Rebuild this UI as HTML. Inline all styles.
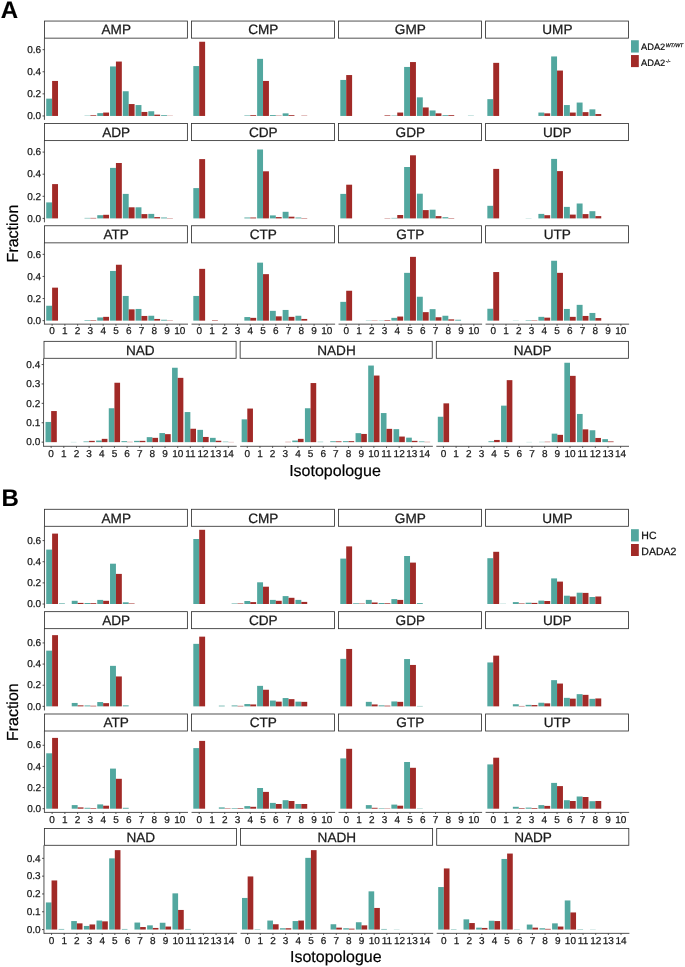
<!DOCTYPE html>
<html><head><meta charset="utf-8"><title>Figure</title>
<style>
html,body{margin:0;padding:0;background:#fff;}
body{width:685px;height:967px;overflow:hidden;font-family:'Liberation Sans', sans-serif;}
svg{display:block;will-change:transform;}
svg text{font-family:"Liberation Sans",sans-serif;text-rendering:geometricPrecision;}
</style></head><body>
<svg width="685" height="967" viewBox="0 0 685 967">
<rect x="0" y="0" width="685" height="967" fill="#fff"/>
<text x="0.70" y="18.20" font-size="24" text-anchor="start" fill="#000" font-weight="bold" stroke="#000" stroke-width="0.15" >A</text>
<rect x="46.21" y="98.65" width="5.90" height="17.30" fill="#52A79F"/>
<rect x="52.11" y="80.95" width="5.90" height="35.00" fill="#A12A27"/>
<rect x="84.50" y="115.65" width="5.90" height="0.30" fill="#52A79F"/>
<rect x="90.40" y="115.25" width="5.90" height="0.70" fill="#A12A27"/>
<rect x="97.26" y="113.15" width="5.90" height="2.80" fill="#52A79F"/>
<rect x="103.16" y="112.55" width="5.90" height="3.40" fill="#A12A27"/>
<rect x="110.03" y="66.45" width="5.90" height="49.50" fill="#52A79F"/>
<rect x="115.93" y="61.55" width="5.90" height="54.40" fill="#A12A27"/>
<rect x="122.79" y="91.25" width="5.90" height="24.70" fill="#52A79F"/>
<rect x="128.69" y="104.05" width="5.90" height="11.90" fill="#A12A27"/>
<rect x="135.55" y="105.05" width="5.90" height="10.90" fill="#52A79F"/>
<rect x="141.45" y="111.95" width="5.90" height="4.00" fill="#A12A27"/>
<rect x="148.32" y="111.25" width="5.90" height="4.70" fill="#52A79F"/>
<rect x="154.22" y="114.65" width="5.90" height="1.30" fill="#A12A27"/>
<rect x="161.08" y="115.15" width="5.90" height="0.80" fill="#52A79F"/>
<rect x="166.98" y="115.75" width="5.90" height="0.20" fill="#A12A27"/>
<rect x="44.45" y="21.05" width="142.95" height="17.10" fill="#fff" stroke="#333333" stroke-width="0.85"/>
<text x="116.22" y="34.40" font-size="13.6" text-anchor="middle" fill="#1a1a1a" font-weight="normal" stroke="#1a1a1a" stroke-width="0.25" >AMP</text>
<line x1="44.45" y1="38.15" x2="44.45" y2="119.88" stroke="#333333" stroke-width="0.85" stroke-linecap="butt"/>
<line x1="42.55" y1="115.95" x2="44.45" y2="115.95" stroke="#333333" stroke-width="0.85" stroke-linecap="butt"/>
<text x="41.15" y="119.15" font-size="10.0" text-anchor="end" fill="#1a1a1a" font-weight="normal" stroke="#1a1a1a" stroke-width="0.25" >0.0</text>
<line x1="42.55" y1="93.85" x2="44.45" y2="93.85" stroke="#333333" stroke-width="0.85" stroke-linecap="butt"/>
<text x="41.15" y="97.05" font-size="10.0" text-anchor="end" fill="#1a1a1a" font-weight="normal" stroke="#1a1a1a" stroke-width="0.25" >0.2</text>
<line x1="42.55" y1="71.75" x2="44.45" y2="71.75" stroke="#333333" stroke-width="0.85" stroke-linecap="butt"/>
<text x="41.15" y="74.95" font-size="10.0" text-anchor="end" fill="#1a1a1a" font-weight="normal" stroke="#1a1a1a" stroke-width="0.25" >0.4</text>
<line x1="42.55" y1="49.65" x2="44.45" y2="49.65" stroke="#333333" stroke-width="0.85" stroke-linecap="butt"/>
<text x="41.15" y="52.85" font-size="10.0" text-anchor="end" fill="#1a1a1a" font-weight="normal" stroke="#1a1a1a" stroke-width="0.25" >0.6</text>
<rect x="193.31" y="66.05" width="5.90" height="49.90" fill="#52A79F"/>
<rect x="199.21" y="41.75" width="5.90" height="74.20" fill="#A12A27"/>
<rect x="244.36" y="115.45" width="5.90" height="0.50" fill="#52A79F"/>
<rect x="250.26" y="115.15" width="5.90" height="0.80" fill="#A12A27"/>
<rect x="257.13" y="58.85" width="5.90" height="57.10" fill="#52A79F"/>
<rect x="263.03" y="80.95" width="5.90" height="35.00" fill="#A12A27"/>
<rect x="269.89" y="115.05" width="5.90" height="0.90" fill="#52A79F"/>
<rect x="275.79" y="115.65" width="5.90" height="0.30" fill="#A12A27"/>
<rect x="282.65" y="113.35" width="5.90" height="2.60" fill="#52A79F"/>
<rect x="288.55" y="115.15" width="5.90" height="0.80" fill="#A12A27"/>
<rect x="301.32" y="115.65" width="5.90" height="0.30" fill="#A12A27"/>
<rect x="191.55" y="21.05" width="142.95" height="17.10" fill="#fff" stroke="#333333" stroke-width="0.85"/>
<text x="263.32" y="34.40" font-size="13.6" text-anchor="middle" fill="#1a1a1a" font-weight="normal" stroke="#1a1a1a" stroke-width="0.25" >CMP</text>
<rect x="340.31" y="79.95" width="5.90" height="36.00" fill="#52A79F"/>
<rect x="346.21" y="75.05" width="5.90" height="40.90" fill="#A12A27"/>
<rect x="384.50" y="115.35" width="5.90" height="0.60" fill="#A12A27"/>
<rect x="391.36" y="115.55" width="5.90" height="0.40" fill="#52A79F"/>
<rect x="397.26" y="112.55" width="5.90" height="3.40" fill="#A12A27"/>
<rect x="404.12" y="66.95" width="5.90" height="49.00" fill="#52A79F"/>
<rect x="410.02" y="62.05" width="5.90" height="53.90" fill="#A12A27"/>
<rect x="416.89" y="97.35" width="5.90" height="18.60" fill="#52A79F"/>
<rect x="422.79" y="107.45" width="5.90" height="8.50" fill="#A12A27"/>
<rect x="429.65" y="110.45" width="5.90" height="5.50" fill="#52A79F"/>
<rect x="435.55" y="113.35" width="5.90" height="2.60" fill="#A12A27"/>
<rect x="442.42" y="115.15" width="5.90" height="0.80" fill="#52A79F"/>
<rect x="448.32" y="115.15" width="5.90" height="0.80" fill="#A12A27"/>
<rect x="467.94" y="115.65" width="5.90" height="0.30" fill="#52A79F"/>
<rect x="338.55" y="21.05" width="142.95" height="17.10" fill="#fff" stroke="#333333" stroke-width="0.85"/>
<text x="410.32" y="34.40" font-size="13.6" text-anchor="middle" fill="#1a1a1a" font-weight="normal" stroke="#1a1a1a" stroke-width="0.25" >GMP</text>
<rect x="487.34" y="99.15" width="5.90" height="16.80" fill="#52A79F"/>
<rect x="493.24" y="62.85" width="5.90" height="53.10" fill="#A12A27"/>
<rect x="538.39" y="112.55" width="5.90" height="3.40" fill="#52A79F"/>
<rect x="544.29" y="113.35" width="5.90" height="2.60" fill="#A12A27"/>
<rect x="551.15" y="56.45" width="5.90" height="59.50" fill="#52A79F"/>
<rect x="557.05" y="70.55" width="5.90" height="45.40" fill="#A12A27"/>
<rect x="563.92" y="105.05" width="5.90" height="10.90" fill="#52A79F"/>
<rect x="569.82" y="112.55" width="5.90" height="3.40" fill="#A12A27"/>
<rect x="576.68" y="102.55" width="5.90" height="13.40" fill="#52A79F"/>
<rect x="582.58" y="112.15" width="5.90" height="3.80" fill="#A12A27"/>
<rect x="589.45" y="109.35" width="5.90" height="6.60" fill="#52A79F"/>
<rect x="595.35" y="114.05" width="5.90" height="1.90" fill="#A12A27"/>
<rect x="485.58" y="21.05" width="142.95" height="17.10" fill="#fff" stroke="#333333" stroke-width="0.85"/>
<text x="557.35" y="34.40" font-size="13.6" text-anchor="middle" fill="#1a1a1a" font-weight="normal" stroke="#1a1a1a" stroke-width="0.25" >UMP</text>
<rect x="46.21" y="202.40" width="5.90" height="16.00" fill="#52A79F"/>
<rect x="52.11" y="184.10" width="5.90" height="34.30" fill="#A12A27"/>
<rect x="84.50" y="217.90" width="5.90" height="0.50" fill="#52A79F"/>
<rect x="90.40" y="217.90" width="5.90" height="0.50" fill="#A12A27"/>
<rect x="97.26" y="215.20" width="5.90" height="3.20" fill="#52A79F"/>
<rect x="103.16" y="214.80" width="5.90" height="3.60" fill="#A12A27"/>
<rect x="110.03" y="167.90" width="5.90" height="50.50" fill="#52A79F"/>
<rect x="115.93" y="163.00" width="5.90" height="55.40" fill="#A12A27"/>
<rect x="122.79" y="193.90" width="5.90" height="24.50" fill="#52A79F"/>
<rect x="128.69" y="207.30" width="5.90" height="11.10" fill="#A12A27"/>
<rect x="135.55" y="207.30" width="5.90" height="11.10" fill="#52A79F"/>
<rect x="141.45" y="214.10" width="5.90" height="4.30" fill="#A12A27"/>
<rect x="148.32" y="213.90" width="5.90" height="4.50" fill="#52A79F"/>
<rect x="154.22" y="217.10" width="5.90" height="1.30" fill="#A12A27"/>
<rect x="161.08" y="217.50" width="5.90" height="0.90" fill="#52A79F"/>
<rect x="166.98" y="218.10" width="5.90" height="0.30" fill="#A12A27"/>
<rect x="44.45" y="123.50" width="142.95" height="17.10" fill="#fff" stroke="#333333" stroke-width="0.85"/>
<text x="116.22" y="136.85" font-size="13.6" text-anchor="middle" fill="#1a1a1a" font-weight="normal" stroke="#1a1a1a" stroke-width="0.25" >ADP</text>
<line x1="44.45" y1="140.60" x2="44.45" y2="222.32" stroke="#333333" stroke-width="0.85" stroke-linecap="butt"/>
<line x1="42.55" y1="218.40" x2="44.45" y2="218.40" stroke="#333333" stroke-width="0.85" stroke-linecap="butt"/>
<text x="41.15" y="221.60" font-size="10.0" text-anchor="end" fill="#1a1a1a" font-weight="normal" stroke="#1a1a1a" stroke-width="0.25" >0.0</text>
<line x1="42.55" y1="196.30" x2="44.45" y2="196.30" stroke="#333333" stroke-width="0.85" stroke-linecap="butt"/>
<text x="41.15" y="199.50" font-size="10.0" text-anchor="end" fill="#1a1a1a" font-weight="normal" stroke="#1a1a1a" stroke-width="0.25" >0.2</text>
<line x1="42.55" y1="174.20" x2="44.45" y2="174.20" stroke="#333333" stroke-width="0.85" stroke-linecap="butt"/>
<text x="41.15" y="177.40" font-size="10.0" text-anchor="end" fill="#1a1a1a" font-weight="normal" stroke="#1a1a1a" stroke-width="0.25" >0.4</text>
<line x1="42.55" y1="152.10" x2="44.45" y2="152.10" stroke="#333333" stroke-width="0.85" stroke-linecap="butt"/>
<text x="41.15" y="155.30" font-size="10.0" text-anchor="end" fill="#1a1a1a" font-weight="normal" stroke="#1a1a1a" stroke-width="0.25" >0.6</text>
<rect x="193.31" y="188.10" width="5.90" height="30.30" fill="#52A79F"/>
<rect x="199.21" y="159.10" width="5.90" height="59.30" fill="#A12A27"/>
<rect x="244.36" y="217.50" width="5.90" height="0.90" fill="#52A79F"/>
<rect x="250.26" y="217.50" width="5.90" height="0.90" fill="#A12A27"/>
<rect x="257.13" y="149.50" width="5.90" height="68.90" fill="#52A79F"/>
<rect x="263.03" y="171.30" width="5.90" height="47.10" fill="#A12A27"/>
<rect x="269.89" y="215.40" width="5.90" height="3.00" fill="#52A79F"/>
<rect x="275.79" y="217.10" width="5.90" height="1.30" fill="#A12A27"/>
<rect x="282.65" y="211.80" width="5.90" height="6.60" fill="#52A79F"/>
<rect x="288.55" y="216.70" width="5.90" height="1.70" fill="#A12A27"/>
<rect x="295.42" y="217.50" width="5.90" height="0.90" fill="#52A79F"/>
<rect x="301.32" y="218.00" width="5.90" height="0.40" fill="#A12A27"/>
<rect x="191.55" y="123.50" width="142.95" height="17.10" fill="#fff" stroke="#333333" stroke-width="0.85"/>
<text x="263.32" y="136.85" font-size="13.6" text-anchor="middle" fill="#1a1a1a" font-weight="normal" stroke="#1a1a1a" stroke-width="0.25" >CDP</text>
<rect x="340.31" y="193.90" width="5.90" height="24.50" fill="#52A79F"/>
<rect x="346.21" y="184.70" width="5.90" height="33.70" fill="#A12A27"/>
<rect x="384.50" y="218.10" width="5.90" height="0.30" fill="#A12A27"/>
<rect x="391.36" y="217.90" width="5.90" height="0.50" fill="#52A79F"/>
<rect x="397.26" y="215.00" width="5.90" height="3.40" fill="#A12A27"/>
<rect x="404.12" y="167.00" width="5.90" height="51.40" fill="#52A79F"/>
<rect x="410.02" y="155.30" width="5.90" height="63.10" fill="#A12A27"/>
<rect x="416.89" y="193.70" width="5.90" height="24.70" fill="#52A79F"/>
<rect x="422.79" y="210.10" width="5.90" height="8.30" fill="#A12A27"/>
<rect x="429.65" y="209.70" width="5.90" height="8.70" fill="#52A79F"/>
<rect x="435.55" y="216.10" width="5.90" height="2.30" fill="#A12A27"/>
<rect x="442.42" y="217.20" width="5.90" height="1.20" fill="#52A79F"/>
<rect x="448.32" y="218.00" width="5.90" height="0.40" fill="#A12A27"/>
<rect x="338.55" y="123.50" width="142.95" height="17.10" fill="#fff" stroke="#333333" stroke-width="0.85"/>
<text x="410.32" y="136.85" font-size="13.6" text-anchor="middle" fill="#1a1a1a" font-weight="normal" stroke="#1a1a1a" stroke-width="0.25" >GDP</text>
<rect x="487.34" y="205.80" width="5.90" height="12.60" fill="#52A79F"/>
<rect x="493.24" y="168.90" width="5.90" height="49.50" fill="#A12A27"/>
<rect x="525.63" y="218.20" width="5.90" height="0.20" fill="#52A79F"/>
<rect x="538.39" y="213.90" width="5.90" height="4.50" fill="#52A79F"/>
<rect x="544.29" y="215.20" width="5.90" height="3.20" fill="#A12A27"/>
<rect x="551.15" y="158.90" width="5.90" height="59.50" fill="#52A79F"/>
<rect x="557.05" y="171.10" width="5.90" height="47.30" fill="#A12A27"/>
<rect x="563.92" y="206.90" width="5.90" height="11.50" fill="#52A79F"/>
<rect x="569.82" y="214.60" width="5.90" height="3.80" fill="#A12A27"/>
<rect x="576.68" y="203.50" width="5.90" height="14.90" fill="#52A79F"/>
<rect x="582.58" y="214.10" width="5.90" height="4.30" fill="#A12A27"/>
<rect x="589.45" y="211.20" width="5.90" height="7.20" fill="#52A79F"/>
<rect x="595.35" y="216.10" width="5.90" height="2.30" fill="#A12A27"/>
<rect x="485.58" y="123.50" width="142.95" height="17.10" fill="#fff" stroke="#333333" stroke-width="0.85"/>
<text x="557.35" y="136.85" font-size="13.6" text-anchor="middle" fill="#1a1a1a" font-weight="normal" stroke="#1a1a1a" stroke-width="0.25" >UDP</text>
<rect x="46.21" y="305.75" width="5.90" height="14.90" fill="#52A79F"/>
<rect x="52.11" y="287.65" width="5.90" height="33.00" fill="#A12A27"/>
<rect x="84.50" y="320.05" width="5.90" height="0.60" fill="#52A79F"/>
<rect x="90.40" y="320.15" width="5.90" height="0.50" fill="#A12A27"/>
<rect x="97.26" y="317.45" width="5.90" height="3.20" fill="#52A79F"/>
<rect x="103.16" y="316.85" width="5.90" height="3.80" fill="#A12A27"/>
<rect x="110.03" y="270.95" width="5.90" height="49.70" fill="#52A79F"/>
<rect x="115.93" y="264.75" width="5.90" height="55.90" fill="#A12A27"/>
<rect x="122.79" y="295.95" width="5.90" height="24.70" fill="#52A79F"/>
<rect x="128.69" y="309.35" width="5.90" height="11.30" fill="#A12A27"/>
<rect x="135.55" y="308.95" width="5.90" height="11.70" fill="#52A79F"/>
<rect x="141.45" y="315.95" width="5.90" height="4.70" fill="#A12A27"/>
<rect x="148.32" y="315.75" width="5.90" height="4.90" fill="#52A79F"/>
<rect x="154.22" y="318.95" width="5.90" height="1.70" fill="#A12A27"/>
<rect x="161.08" y="319.75" width="5.90" height="0.90" fill="#52A79F"/>
<rect x="166.98" y="320.35" width="5.90" height="0.30" fill="#A12A27"/>
<rect x="44.45" y="225.75" width="142.95" height="17.10" fill="#fff" stroke="#333333" stroke-width="0.85"/>
<text x="116.22" y="239.10" font-size="13.6" text-anchor="middle" fill="#1a1a1a" font-weight="normal" stroke="#1a1a1a" stroke-width="0.25" >ATP</text>
<line x1="44.45" y1="242.85" x2="44.45" y2="324.57" stroke="#333333" stroke-width="0.85" stroke-linecap="butt"/>
<line x1="42.55" y1="320.65" x2="44.45" y2="320.65" stroke="#333333" stroke-width="0.85" stroke-linecap="butt"/>
<text x="41.15" y="323.85" font-size="10.0" text-anchor="end" fill="#1a1a1a" font-weight="normal" stroke="#1a1a1a" stroke-width="0.25" >0.0</text>
<line x1="42.55" y1="298.55" x2="44.45" y2="298.55" stroke="#333333" stroke-width="0.85" stroke-linecap="butt"/>
<text x="41.15" y="301.75" font-size="10.0" text-anchor="end" fill="#1a1a1a" font-weight="normal" stroke="#1a1a1a" stroke-width="0.25" >0.2</text>
<line x1="42.55" y1="276.45" x2="44.45" y2="276.45" stroke="#333333" stroke-width="0.85" stroke-linecap="butt"/>
<text x="41.15" y="279.65" font-size="10.0" text-anchor="end" fill="#1a1a1a" font-weight="normal" stroke="#1a1a1a" stroke-width="0.25" >0.4</text>
<line x1="42.55" y1="254.35" x2="44.45" y2="254.35" stroke="#333333" stroke-width="0.85" stroke-linecap="butt"/>
<text x="41.15" y="257.55" font-size="10.0" text-anchor="end" fill="#1a1a1a" font-weight="normal" stroke="#1a1a1a" stroke-width="0.25" >0.6</text>
<line x1="44.45" y1="324.15" x2="188.00" y2="324.15" stroke="#333333" stroke-width="0.85" stroke-linecap="butt"/>
<line x1="52.11" y1="324.15" x2="52.11" y2="325.75" stroke="#333333" stroke-width="0.85" stroke-linecap="butt"/>
<text x="52.11" y="334.45" font-size="10.0" text-anchor="middle" fill="#1a1a1a" font-weight="normal" stroke="#1a1a1a" stroke-width="0.25" >0</text>
<line x1="64.87" y1="324.15" x2="64.87" y2="325.75" stroke="#333333" stroke-width="0.85" stroke-linecap="butt"/>
<text x="64.87" y="334.45" font-size="10.0" text-anchor="middle" fill="#1a1a1a" font-weight="normal" stroke="#1a1a1a" stroke-width="0.25" >1</text>
<line x1="77.63" y1="324.15" x2="77.63" y2="325.75" stroke="#333333" stroke-width="0.85" stroke-linecap="butt"/>
<text x="77.63" y="334.45" font-size="10.0" text-anchor="middle" fill="#1a1a1a" font-weight="normal" stroke="#1a1a1a" stroke-width="0.25" >2</text>
<line x1="90.40" y1="324.15" x2="90.40" y2="325.75" stroke="#333333" stroke-width="0.85" stroke-linecap="butt"/>
<text x="90.40" y="334.45" font-size="10.0" text-anchor="middle" fill="#1a1a1a" font-weight="normal" stroke="#1a1a1a" stroke-width="0.25" >3</text>
<line x1="103.16" y1="324.15" x2="103.16" y2="325.75" stroke="#333333" stroke-width="0.85" stroke-linecap="butt"/>
<text x="103.16" y="334.45" font-size="10.0" text-anchor="middle" fill="#1a1a1a" font-weight="normal" stroke="#1a1a1a" stroke-width="0.25" >4</text>
<line x1="115.93" y1="324.15" x2="115.93" y2="325.75" stroke="#333333" stroke-width="0.85" stroke-linecap="butt"/>
<text x="115.93" y="334.45" font-size="10.0" text-anchor="middle" fill="#1a1a1a" font-weight="normal" stroke="#1a1a1a" stroke-width="0.25" >5</text>
<line x1="128.69" y1="324.15" x2="128.69" y2="325.75" stroke="#333333" stroke-width="0.85" stroke-linecap="butt"/>
<text x="128.69" y="334.45" font-size="10.0" text-anchor="middle" fill="#1a1a1a" font-weight="normal" stroke="#1a1a1a" stroke-width="0.25" >6</text>
<line x1="141.45" y1="324.15" x2="141.45" y2="325.75" stroke="#333333" stroke-width="0.85" stroke-linecap="butt"/>
<text x="141.45" y="334.45" font-size="10.0" text-anchor="middle" fill="#1a1a1a" font-weight="normal" stroke="#1a1a1a" stroke-width="0.25" >7</text>
<line x1="154.22" y1="324.15" x2="154.22" y2="325.75" stroke="#333333" stroke-width="0.85" stroke-linecap="butt"/>
<text x="154.22" y="334.45" font-size="10.0" text-anchor="middle" fill="#1a1a1a" font-weight="normal" stroke="#1a1a1a" stroke-width="0.25" >8</text>
<line x1="166.98" y1="324.15" x2="166.98" y2="325.75" stroke="#333333" stroke-width="0.85" stroke-linecap="butt"/>
<text x="166.98" y="334.45" font-size="10.0" text-anchor="middle" fill="#1a1a1a" font-weight="normal" stroke="#1a1a1a" stroke-width="0.25" >9</text>
<line x1="179.74" y1="324.15" x2="179.74" y2="325.75" stroke="#333333" stroke-width="0.85" stroke-linecap="butt"/>
<text x="179.74" y="334.45" font-size="10.0" text-anchor="middle" fill="#1a1a1a" font-weight="normal" stroke="#1a1a1a" stroke-width="0.25" >10</text>
<rect x="193.31" y="295.95" width="5.90" height="24.70" fill="#52A79F"/>
<rect x="199.21" y="268.85" width="5.90" height="51.80" fill="#A12A27"/>
<rect x="211.97" y="320.15" width="5.90" height="0.50" fill="#A12A27"/>
<rect x="244.36" y="317.05" width="5.90" height="3.60" fill="#52A79F"/>
<rect x="250.26" y="317.85" width="5.90" height="2.80" fill="#A12A27"/>
<rect x="257.13" y="262.65" width="5.90" height="58.00" fill="#52A79F"/>
<rect x="263.03" y="274.15" width="5.90" height="46.50" fill="#A12A27"/>
<rect x="269.89" y="310.85" width="5.90" height="9.80" fill="#52A79F"/>
<rect x="275.79" y="316.35" width="5.90" height="4.30" fill="#A12A27"/>
<rect x="282.65" y="309.95" width="5.90" height="10.70" fill="#52A79F"/>
<rect x="288.55" y="316.85" width="5.90" height="3.80" fill="#A12A27"/>
<rect x="295.42" y="315.75" width="5.90" height="4.90" fill="#52A79F"/>
<rect x="301.32" y="318.95" width="5.90" height="1.70" fill="#A12A27"/>
<rect x="191.55" y="225.75" width="142.95" height="17.10" fill="#fff" stroke="#333333" stroke-width="0.85"/>
<text x="263.32" y="239.10" font-size="13.6" text-anchor="middle" fill="#1a1a1a" font-weight="normal" stroke="#1a1a1a" stroke-width="0.25" >CTP</text>
<line x1="191.55" y1="324.15" x2="335.10" y2="324.15" stroke="#333333" stroke-width="0.85" stroke-linecap="butt"/>
<line x1="199.21" y1="324.15" x2="199.21" y2="325.75" stroke="#333333" stroke-width="0.85" stroke-linecap="butt"/>
<text x="199.21" y="334.45" font-size="10.0" text-anchor="middle" fill="#1a1a1a" font-weight="normal" stroke="#1a1a1a" stroke-width="0.25" >0</text>
<line x1="211.97" y1="324.15" x2="211.97" y2="325.75" stroke="#333333" stroke-width="0.85" stroke-linecap="butt"/>
<text x="211.97" y="334.45" font-size="10.0" text-anchor="middle" fill="#1a1a1a" font-weight="normal" stroke="#1a1a1a" stroke-width="0.25" >1</text>
<line x1="224.73" y1="324.15" x2="224.73" y2="325.75" stroke="#333333" stroke-width="0.85" stroke-linecap="butt"/>
<text x="224.73" y="334.45" font-size="10.0" text-anchor="middle" fill="#1a1a1a" font-weight="normal" stroke="#1a1a1a" stroke-width="0.25" >2</text>
<line x1="237.50" y1="324.15" x2="237.50" y2="325.75" stroke="#333333" stroke-width="0.85" stroke-linecap="butt"/>
<text x="237.50" y="334.45" font-size="10.0" text-anchor="middle" fill="#1a1a1a" font-weight="normal" stroke="#1a1a1a" stroke-width="0.25" >3</text>
<line x1="250.26" y1="324.15" x2="250.26" y2="325.75" stroke="#333333" stroke-width="0.85" stroke-linecap="butt"/>
<text x="250.26" y="334.45" font-size="10.0" text-anchor="middle" fill="#1a1a1a" font-weight="normal" stroke="#1a1a1a" stroke-width="0.25" >4</text>
<line x1="263.03" y1="324.15" x2="263.03" y2="325.75" stroke="#333333" stroke-width="0.85" stroke-linecap="butt"/>
<text x="263.03" y="334.45" font-size="10.0" text-anchor="middle" fill="#1a1a1a" font-weight="normal" stroke="#1a1a1a" stroke-width="0.25" >5</text>
<line x1="275.79" y1="324.15" x2="275.79" y2="325.75" stroke="#333333" stroke-width="0.85" stroke-linecap="butt"/>
<text x="275.79" y="334.45" font-size="10.0" text-anchor="middle" fill="#1a1a1a" font-weight="normal" stroke="#1a1a1a" stroke-width="0.25" >6</text>
<line x1="288.55" y1="324.15" x2="288.55" y2="325.75" stroke="#333333" stroke-width="0.85" stroke-linecap="butt"/>
<text x="288.55" y="334.45" font-size="10.0" text-anchor="middle" fill="#1a1a1a" font-weight="normal" stroke="#1a1a1a" stroke-width="0.25" >7</text>
<line x1="301.32" y1="324.15" x2="301.32" y2="325.75" stroke="#333333" stroke-width="0.85" stroke-linecap="butt"/>
<text x="301.32" y="334.45" font-size="10.0" text-anchor="middle" fill="#1a1a1a" font-weight="normal" stroke="#1a1a1a" stroke-width="0.25" >8</text>
<line x1="314.08" y1="324.15" x2="314.08" y2="325.75" stroke="#333333" stroke-width="0.85" stroke-linecap="butt"/>
<text x="314.08" y="334.45" font-size="10.0" text-anchor="middle" fill="#1a1a1a" font-weight="normal" stroke="#1a1a1a" stroke-width="0.25" >9</text>
<line x1="326.84" y1="324.15" x2="326.84" y2="325.75" stroke="#333333" stroke-width="0.85" stroke-linecap="butt"/>
<text x="326.84" y="334.45" font-size="10.0" text-anchor="middle" fill="#1a1a1a" font-weight="normal" stroke="#1a1a1a" stroke-width="0.25" >10</text>
<rect x="340.31" y="301.85" width="5.90" height="18.80" fill="#52A79F"/>
<rect x="346.21" y="290.75" width="5.90" height="29.90" fill="#A12A27"/>
<rect x="365.83" y="320.35" width="5.90" height="0.30" fill="#52A79F"/>
<rect x="371.73" y="320.35" width="5.90" height="0.30" fill="#A12A27"/>
<rect x="378.60" y="320.35" width="5.90" height="0.30" fill="#52A79F"/>
<rect x="384.50" y="320.05" width="5.90" height="0.60" fill="#A12A27"/>
<rect x="391.36" y="317.85" width="5.90" height="2.80" fill="#52A79F"/>
<rect x="397.26" y="316.55" width="5.90" height="4.10" fill="#A12A27"/>
<rect x="404.12" y="272.85" width="5.90" height="47.80" fill="#52A79F"/>
<rect x="410.02" y="256.85" width="5.90" height="63.80" fill="#A12A27"/>
<rect x="416.89" y="296.75" width="5.90" height="23.90" fill="#52A79F"/>
<rect x="422.79" y="312.15" width="5.90" height="8.50" fill="#A12A27"/>
<rect x="429.65" y="309.15" width="5.90" height="11.50" fill="#52A79F"/>
<rect x="435.55" y="317.25" width="5.90" height="3.40" fill="#A12A27"/>
<rect x="442.42" y="315.75" width="5.90" height="4.90" fill="#52A79F"/>
<rect x="448.32" y="319.35" width="5.90" height="1.30" fill="#A12A27"/>
<rect x="455.18" y="319.75" width="5.90" height="0.90" fill="#52A79F"/>
<rect x="338.55" y="225.75" width="142.95" height="17.10" fill="#fff" stroke="#333333" stroke-width="0.85"/>
<text x="410.32" y="239.10" font-size="13.6" text-anchor="middle" fill="#1a1a1a" font-weight="normal" stroke="#1a1a1a" stroke-width="0.25" >GTP</text>
<line x1="338.55" y1="324.15" x2="482.10" y2="324.15" stroke="#333333" stroke-width="0.85" stroke-linecap="butt"/>
<line x1="346.21" y1="324.15" x2="346.21" y2="325.75" stroke="#333333" stroke-width="0.85" stroke-linecap="butt"/>
<text x="346.21" y="334.45" font-size="10.0" text-anchor="middle" fill="#1a1a1a" font-weight="normal" stroke="#1a1a1a" stroke-width="0.25" >0</text>
<line x1="358.97" y1="324.15" x2="358.97" y2="325.75" stroke="#333333" stroke-width="0.85" stroke-linecap="butt"/>
<text x="358.97" y="334.45" font-size="10.0" text-anchor="middle" fill="#1a1a1a" font-weight="normal" stroke="#1a1a1a" stroke-width="0.25" >1</text>
<line x1="371.73" y1="324.15" x2="371.73" y2="325.75" stroke="#333333" stroke-width="0.85" stroke-linecap="butt"/>
<text x="371.73" y="334.45" font-size="10.0" text-anchor="middle" fill="#1a1a1a" font-weight="normal" stroke="#1a1a1a" stroke-width="0.25" >2</text>
<line x1="384.50" y1="324.15" x2="384.50" y2="325.75" stroke="#333333" stroke-width="0.85" stroke-linecap="butt"/>
<text x="384.50" y="334.45" font-size="10.0" text-anchor="middle" fill="#1a1a1a" font-weight="normal" stroke="#1a1a1a" stroke-width="0.25" >3</text>
<line x1="397.26" y1="324.15" x2="397.26" y2="325.75" stroke="#333333" stroke-width="0.85" stroke-linecap="butt"/>
<text x="397.26" y="334.45" font-size="10.0" text-anchor="middle" fill="#1a1a1a" font-weight="normal" stroke="#1a1a1a" stroke-width="0.25" >4</text>
<line x1="410.02" y1="324.15" x2="410.02" y2="325.75" stroke="#333333" stroke-width="0.85" stroke-linecap="butt"/>
<text x="410.02" y="334.45" font-size="10.0" text-anchor="middle" fill="#1a1a1a" font-weight="normal" stroke="#1a1a1a" stroke-width="0.25" >5</text>
<line x1="422.79" y1="324.15" x2="422.79" y2="325.75" stroke="#333333" stroke-width="0.85" stroke-linecap="butt"/>
<text x="422.79" y="334.45" font-size="10.0" text-anchor="middle" fill="#1a1a1a" font-weight="normal" stroke="#1a1a1a" stroke-width="0.25" >6</text>
<line x1="435.55" y1="324.15" x2="435.55" y2="325.75" stroke="#333333" stroke-width="0.85" stroke-linecap="butt"/>
<text x="435.55" y="334.45" font-size="10.0" text-anchor="middle" fill="#1a1a1a" font-weight="normal" stroke="#1a1a1a" stroke-width="0.25" >7</text>
<line x1="448.32" y1="324.15" x2="448.32" y2="325.75" stroke="#333333" stroke-width="0.85" stroke-linecap="butt"/>
<text x="448.32" y="334.45" font-size="10.0" text-anchor="middle" fill="#1a1a1a" font-weight="normal" stroke="#1a1a1a" stroke-width="0.25" >8</text>
<line x1="461.08" y1="324.15" x2="461.08" y2="325.75" stroke="#333333" stroke-width="0.85" stroke-linecap="butt"/>
<text x="461.08" y="334.45" font-size="10.0" text-anchor="middle" fill="#1a1a1a" font-weight="normal" stroke="#1a1a1a" stroke-width="0.25" >9</text>
<line x1="473.84" y1="324.15" x2="473.84" y2="325.75" stroke="#333333" stroke-width="0.85" stroke-linecap="butt"/>
<text x="473.84" y="334.45" font-size="10.0" text-anchor="middle" fill="#1a1a1a" font-weight="normal" stroke="#1a1a1a" stroke-width="0.25" >10</text>
<rect x="487.34" y="308.75" width="5.90" height="11.90" fill="#52A79F"/>
<rect x="493.24" y="272.05" width="5.90" height="48.60" fill="#A12A27"/>
<rect x="512.86" y="320.45" width="5.90" height="0.20" fill="#52A79F"/>
<rect x="525.63" y="320.15" width="5.90" height="0.50" fill="#52A79F"/>
<rect x="531.53" y="320.25" width="5.90" height="0.40" fill="#A12A27"/>
<rect x="538.39" y="316.85" width="5.90" height="3.80" fill="#52A79F"/>
<rect x="544.29" y="317.65" width="5.90" height="3.00" fill="#A12A27"/>
<rect x="551.15" y="260.75" width="5.90" height="59.90" fill="#52A79F"/>
<rect x="557.05" y="272.85" width="5.90" height="47.80" fill="#A12A27"/>
<rect x="563.92" y="308.95" width="5.90" height="11.70" fill="#52A79F"/>
<rect x="569.82" y="316.85" width="5.90" height="3.80" fill="#A12A27"/>
<rect x="576.68" y="304.85" width="5.90" height="15.80" fill="#52A79F"/>
<rect x="582.58" y="315.95" width="5.90" height="4.70" fill="#A12A27"/>
<rect x="589.45" y="312.95" width="5.90" height="7.70" fill="#52A79F"/>
<rect x="595.35" y="318.05" width="5.90" height="2.60" fill="#A12A27"/>
<rect x="485.58" y="225.75" width="142.95" height="17.10" fill="#fff" stroke="#333333" stroke-width="0.85"/>
<text x="557.35" y="239.10" font-size="13.6" text-anchor="middle" fill="#1a1a1a" font-weight="normal" stroke="#1a1a1a" stroke-width="0.25" >UTP</text>
<line x1="485.58" y1="324.15" x2="629.13" y2="324.15" stroke="#333333" stroke-width="0.85" stroke-linecap="butt"/>
<line x1="493.24" y1="324.15" x2="493.24" y2="325.75" stroke="#333333" stroke-width="0.85" stroke-linecap="butt"/>
<text x="493.24" y="334.45" font-size="10.0" text-anchor="middle" fill="#1a1a1a" font-weight="normal" stroke="#1a1a1a" stroke-width="0.25" >0</text>
<line x1="506.00" y1="324.15" x2="506.00" y2="325.75" stroke="#333333" stroke-width="0.85" stroke-linecap="butt"/>
<text x="506.00" y="334.45" font-size="10.0" text-anchor="middle" fill="#1a1a1a" font-weight="normal" stroke="#1a1a1a" stroke-width="0.25" >1</text>
<line x1="518.76" y1="324.15" x2="518.76" y2="325.75" stroke="#333333" stroke-width="0.85" stroke-linecap="butt"/>
<text x="518.76" y="334.45" font-size="10.0" text-anchor="middle" fill="#1a1a1a" font-weight="normal" stroke="#1a1a1a" stroke-width="0.25" >2</text>
<line x1="531.53" y1="324.15" x2="531.53" y2="325.75" stroke="#333333" stroke-width="0.85" stroke-linecap="butt"/>
<text x="531.53" y="334.45" font-size="10.0" text-anchor="middle" fill="#1a1a1a" font-weight="normal" stroke="#1a1a1a" stroke-width="0.25" >3</text>
<line x1="544.29" y1="324.15" x2="544.29" y2="325.75" stroke="#333333" stroke-width="0.85" stroke-linecap="butt"/>
<text x="544.29" y="334.45" font-size="10.0" text-anchor="middle" fill="#1a1a1a" font-weight="normal" stroke="#1a1a1a" stroke-width="0.25" >4</text>
<line x1="557.05" y1="324.15" x2="557.05" y2="325.75" stroke="#333333" stroke-width="0.85" stroke-linecap="butt"/>
<text x="557.05" y="334.45" font-size="10.0" text-anchor="middle" fill="#1a1a1a" font-weight="normal" stroke="#1a1a1a" stroke-width="0.25" >5</text>
<line x1="569.82" y1="324.15" x2="569.82" y2="325.75" stroke="#333333" stroke-width="0.85" stroke-linecap="butt"/>
<text x="569.82" y="334.45" font-size="10.0" text-anchor="middle" fill="#1a1a1a" font-weight="normal" stroke="#1a1a1a" stroke-width="0.25" >6</text>
<line x1="582.58" y1="324.15" x2="582.58" y2="325.75" stroke="#333333" stroke-width="0.85" stroke-linecap="butt"/>
<text x="582.58" y="334.45" font-size="10.0" text-anchor="middle" fill="#1a1a1a" font-weight="normal" stroke="#1a1a1a" stroke-width="0.25" >7</text>
<line x1="595.35" y1="324.15" x2="595.35" y2="325.75" stroke="#333333" stroke-width="0.85" stroke-linecap="butt"/>
<text x="595.35" y="334.45" font-size="10.0" text-anchor="middle" fill="#1a1a1a" font-weight="normal" stroke="#1a1a1a" stroke-width="0.25" >8</text>
<line x1="608.11" y1="324.15" x2="608.11" y2="325.75" stroke="#333333" stroke-width="0.85" stroke-linecap="butt"/>
<text x="608.11" y="334.45" font-size="10.0" text-anchor="middle" fill="#1a1a1a" font-weight="normal" stroke="#1a1a1a" stroke-width="0.25" >9</text>
<line x1="620.87" y1="324.15" x2="620.87" y2="325.75" stroke="#333333" stroke-width="0.85" stroke-linecap="butt"/>
<text x="620.87" y="334.45" font-size="10.0" text-anchor="middle" fill="#1a1a1a" font-weight="normal" stroke="#1a1a1a" stroke-width="0.25" >10</text>
<rect x="45.50" y="421.95" width="5.65" height="20.20" fill="#52A79F"/>
<rect x="51.15" y="411.05" width="5.65" height="31.10" fill="#A12A27"/>
<rect x="70.81" y="441.95" width="5.65" height="0.20" fill="#52A79F"/>
<rect x="83.46" y="441.45" width="5.65" height="0.70" fill="#52A79F"/>
<rect x="89.11" y="440.85" width="5.65" height="1.30" fill="#A12A27"/>
<rect x="96.12" y="440.55" width="5.65" height="1.60" fill="#52A79F"/>
<rect x="101.77" y="438.85" width="5.65" height="3.30" fill="#A12A27"/>
<rect x="108.77" y="408.25" width="5.65" height="33.90" fill="#52A79F"/>
<rect x="114.42" y="382.75" width="5.65" height="59.40" fill="#A12A27"/>
<rect x="121.43" y="441.15" width="5.65" height="1.00" fill="#52A79F"/>
<rect x="127.08" y="441.85" width="5.65" height="0.30" fill="#A12A27"/>
<rect x="134.08" y="440.85" width="5.65" height="1.30" fill="#52A79F"/>
<rect x="139.73" y="440.85" width="5.65" height="1.30" fill="#A12A27"/>
<rect x="146.74" y="437.15" width="5.65" height="5.00" fill="#52A79F"/>
<rect x="152.39" y="437.85" width="5.65" height="4.30" fill="#A12A27"/>
<rect x="159.39" y="433.05" width="5.65" height="9.10" fill="#52A79F"/>
<rect x="165.04" y="434.15" width="5.65" height="8.00" fill="#A12A27"/>
<rect x="172.05" y="367.75" width="5.65" height="74.40" fill="#52A79F"/>
<rect x="177.70" y="377.85" width="5.65" height="64.30" fill="#A12A27"/>
<rect x="184.70" y="412.05" width="5.65" height="30.10" fill="#52A79F"/>
<rect x="190.35" y="428.75" width="5.65" height="13.40" fill="#A12A27"/>
<rect x="197.36" y="429.85" width="5.65" height="12.30" fill="#52A79F"/>
<rect x="203.01" y="436.95" width="5.65" height="5.20" fill="#A12A27"/>
<rect x="210.01" y="437.85" width="5.65" height="4.30" fill="#52A79F"/>
<rect x="215.66" y="440.75" width="5.65" height="1.40" fill="#A12A27"/>
<rect x="222.67" y="441.65" width="5.65" height="0.50" fill="#52A79F"/>
<rect x="228.32" y="441.95" width="5.65" height="0.20" fill="#A12A27"/>
<rect x="44.00" y="341.35" width="192.10" height="16.95" fill="#fff" stroke="#333333" stroke-width="0.85"/>
<text x="140.35" y="354.63" font-size="13.6" text-anchor="middle" fill="#1a1a1a" font-weight="normal" stroke="#1a1a1a" stroke-width="0.25" >NAD</text>
<line x1="43.55" y1="358.30" x2="43.55" y2="446.73" stroke="#333333" stroke-width="0.85" stroke-linecap="butt"/>
<line x1="41.65" y1="442.15" x2="43.55" y2="442.15" stroke="#333333" stroke-width="0.85" stroke-linecap="butt"/>
<text x="40.25" y="445.35" font-size="10.0" text-anchor="end" fill="#1a1a1a" font-weight="normal" stroke="#1a1a1a" stroke-width="0.25" >0.0</text>
<line x1="41.65" y1="422.75" x2="43.55" y2="422.75" stroke="#333333" stroke-width="0.85" stroke-linecap="butt"/>
<text x="40.25" y="425.95" font-size="10.0" text-anchor="end" fill="#1a1a1a" font-weight="normal" stroke="#1a1a1a" stroke-width="0.25" >0.1</text>
<line x1="41.65" y1="403.35" x2="43.55" y2="403.35" stroke="#333333" stroke-width="0.85" stroke-linecap="butt"/>
<text x="40.25" y="406.55" font-size="10.0" text-anchor="end" fill="#1a1a1a" font-weight="normal" stroke="#1a1a1a" stroke-width="0.25" >0.2</text>
<line x1="41.65" y1="383.95" x2="43.55" y2="383.95" stroke="#333333" stroke-width="0.85" stroke-linecap="butt"/>
<text x="40.25" y="387.15" font-size="10.0" text-anchor="end" fill="#1a1a1a" font-weight="normal" stroke="#1a1a1a" stroke-width="0.25" >0.3</text>
<line x1="41.65" y1="364.55" x2="43.55" y2="364.55" stroke="#333333" stroke-width="0.85" stroke-linecap="butt"/>
<text x="40.25" y="367.75" font-size="10.0" text-anchor="end" fill="#1a1a1a" font-weight="normal" stroke="#1a1a1a" stroke-width="0.25" >0.4</text>
<line x1="43.55" y1="446.30" x2="236.70" y2="446.30" stroke="#333333" stroke-width="0.85" stroke-linecap="butt"/>
<line x1="51.15" y1="446.30" x2="51.15" y2="447.90" stroke="#333333" stroke-width="0.85" stroke-linecap="butt"/>
<text x="51.15" y="456.60" font-size="10.0" text-anchor="middle" fill="#1a1a1a" font-weight="normal" stroke="#1a1a1a" stroke-width="0.25" >0</text>
<line x1="63.80" y1="446.30" x2="63.80" y2="447.90" stroke="#333333" stroke-width="0.85" stroke-linecap="butt"/>
<text x="63.80" y="456.60" font-size="10.0" text-anchor="middle" fill="#1a1a1a" font-weight="normal" stroke="#1a1a1a" stroke-width="0.25" >1</text>
<line x1="76.46" y1="446.30" x2="76.46" y2="447.90" stroke="#333333" stroke-width="0.85" stroke-linecap="butt"/>
<text x="76.46" y="456.60" font-size="10.0" text-anchor="middle" fill="#1a1a1a" font-weight="normal" stroke="#1a1a1a" stroke-width="0.25" >2</text>
<line x1="89.11" y1="446.30" x2="89.11" y2="447.90" stroke="#333333" stroke-width="0.85" stroke-linecap="butt"/>
<text x="89.11" y="456.60" font-size="10.0" text-anchor="middle" fill="#1a1a1a" font-weight="normal" stroke="#1a1a1a" stroke-width="0.25" >3</text>
<line x1="101.77" y1="446.30" x2="101.77" y2="447.90" stroke="#333333" stroke-width="0.85" stroke-linecap="butt"/>
<text x="101.77" y="456.60" font-size="10.0" text-anchor="middle" fill="#1a1a1a" font-weight="normal" stroke="#1a1a1a" stroke-width="0.25" >4</text>
<line x1="114.42" y1="446.30" x2="114.42" y2="447.90" stroke="#333333" stroke-width="0.85" stroke-linecap="butt"/>
<text x="114.42" y="456.60" font-size="10.0" text-anchor="middle" fill="#1a1a1a" font-weight="normal" stroke="#1a1a1a" stroke-width="0.25" >5</text>
<line x1="127.08" y1="446.30" x2="127.08" y2="447.90" stroke="#333333" stroke-width="0.85" stroke-linecap="butt"/>
<text x="127.08" y="456.60" font-size="10.0" text-anchor="middle" fill="#1a1a1a" font-weight="normal" stroke="#1a1a1a" stroke-width="0.25" >6</text>
<line x1="139.73" y1="446.30" x2="139.73" y2="447.90" stroke="#333333" stroke-width="0.85" stroke-linecap="butt"/>
<text x="139.73" y="456.60" font-size="10.0" text-anchor="middle" fill="#1a1a1a" font-weight="normal" stroke="#1a1a1a" stroke-width="0.25" >7</text>
<line x1="152.39" y1="446.30" x2="152.39" y2="447.90" stroke="#333333" stroke-width="0.85" stroke-linecap="butt"/>
<text x="152.39" y="456.60" font-size="10.0" text-anchor="middle" fill="#1a1a1a" font-weight="normal" stroke="#1a1a1a" stroke-width="0.25" >8</text>
<line x1="165.04" y1="446.30" x2="165.04" y2="447.90" stroke="#333333" stroke-width="0.85" stroke-linecap="butt"/>
<text x="165.04" y="456.60" font-size="10.0" text-anchor="middle" fill="#1a1a1a" font-weight="normal" stroke="#1a1a1a" stroke-width="0.25" >9</text>
<line x1="177.70" y1="446.30" x2="177.70" y2="447.90" stroke="#333333" stroke-width="0.85" stroke-linecap="butt"/>
<text x="177.70" y="456.60" font-size="10.0" text-anchor="middle" fill="#1a1a1a" font-weight="normal" stroke="#1a1a1a" stroke-width="0.25" >10</text>
<line x1="190.35" y1="446.30" x2="190.35" y2="447.90" stroke="#333333" stroke-width="0.85" stroke-linecap="butt"/>
<text x="190.35" y="456.60" font-size="10.0" text-anchor="middle" fill="#1a1a1a" font-weight="normal" stroke="#1a1a1a" stroke-width="0.25" >11</text>
<line x1="203.01" y1="446.30" x2="203.01" y2="447.90" stroke="#333333" stroke-width="0.85" stroke-linecap="butt"/>
<text x="203.01" y="456.60" font-size="10.0" text-anchor="middle" fill="#1a1a1a" font-weight="normal" stroke="#1a1a1a" stroke-width="0.25" >12</text>
<line x1="215.66" y1="446.30" x2="215.66" y2="447.90" stroke="#333333" stroke-width="0.85" stroke-linecap="butt"/>
<text x="215.66" y="456.60" font-size="10.0" text-anchor="middle" fill="#1a1a1a" font-weight="normal" stroke="#1a1a1a" stroke-width="0.25" >13</text>
<line x1="228.32" y1="446.30" x2="228.32" y2="447.90" stroke="#333333" stroke-width="0.85" stroke-linecap="butt"/>
<text x="228.32" y="456.60" font-size="10.0" text-anchor="middle" fill="#1a1a1a" font-weight="normal" stroke="#1a1a1a" stroke-width="0.25" >14</text>
<rect x="241.65" y="419.35" width="5.65" height="22.80" fill="#52A79F"/>
<rect x="247.30" y="408.55" width="5.65" height="33.60" fill="#A12A27"/>
<rect x="285.26" y="441.85" width="5.65" height="0.30" fill="#A12A27"/>
<rect x="292.27" y="440.55" width="5.65" height="1.60" fill="#52A79F"/>
<rect x="297.92" y="438.85" width="5.65" height="3.30" fill="#A12A27"/>
<rect x="304.93" y="408.25" width="5.65" height="33.90" fill="#52A79F"/>
<rect x="310.57" y="383.05" width="5.65" height="59.10" fill="#A12A27"/>
<rect x="317.58" y="441.75" width="5.65" height="0.40" fill="#52A79F"/>
<rect x="330.24" y="441.25" width="5.65" height="0.90" fill="#52A79F"/>
<rect x="335.88" y="441.35" width="5.65" height="0.80" fill="#A12A27"/>
<rect x="342.89" y="441.15" width="5.65" height="1.00" fill="#52A79F"/>
<rect x="348.54" y="441.15" width="5.65" height="1.00" fill="#A12A27"/>
<rect x="355.55" y="433.15" width="5.65" height="9.00" fill="#52A79F"/>
<rect x="361.19" y="433.95" width="5.65" height="8.20" fill="#A12A27"/>
<rect x="368.20" y="365.55" width="5.65" height="76.60" fill="#52A79F"/>
<rect x="373.85" y="375.55" width="5.65" height="66.60" fill="#A12A27"/>
<rect x="380.86" y="413.05" width="5.65" height="29.10" fill="#52A79F"/>
<rect x="386.50" y="428.85" width="5.65" height="13.30" fill="#A12A27"/>
<rect x="393.51" y="429.15" width="5.65" height="13.00" fill="#52A79F"/>
<rect x="399.16" y="436.55" width="5.65" height="5.60" fill="#A12A27"/>
<rect x="406.17" y="437.65" width="5.65" height="4.50" fill="#52A79F"/>
<rect x="411.81" y="440.85" width="5.65" height="1.30" fill="#A12A27"/>
<rect x="418.82" y="441.45" width="5.65" height="0.70" fill="#52A79F"/>
<rect x="424.47" y="441.85" width="5.65" height="0.30" fill="#A12A27"/>
<rect x="240.15" y="341.35" width="192.10" height="16.95" fill="#fff" stroke="#333333" stroke-width="0.85"/>
<text x="336.50" y="354.63" font-size="13.6" text-anchor="middle" fill="#1a1a1a" font-weight="normal" stroke="#1a1a1a" stroke-width="0.25" >NADH</text>
<line x1="240.15" y1="446.30" x2="432.85" y2="446.30" stroke="#333333" stroke-width="0.85" stroke-linecap="butt"/>
<line x1="247.30" y1="446.30" x2="247.30" y2="447.90" stroke="#333333" stroke-width="0.85" stroke-linecap="butt"/>
<text x="247.30" y="456.60" font-size="10.0" text-anchor="middle" fill="#1a1a1a" font-weight="normal" stroke="#1a1a1a" stroke-width="0.25" >0</text>
<line x1="259.95" y1="446.30" x2="259.95" y2="447.90" stroke="#333333" stroke-width="0.85" stroke-linecap="butt"/>
<text x="259.95" y="456.60" font-size="10.0" text-anchor="middle" fill="#1a1a1a" font-weight="normal" stroke="#1a1a1a" stroke-width="0.25" >1</text>
<line x1="272.61" y1="446.30" x2="272.61" y2="447.90" stroke="#333333" stroke-width="0.85" stroke-linecap="butt"/>
<text x="272.61" y="456.60" font-size="10.0" text-anchor="middle" fill="#1a1a1a" font-weight="normal" stroke="#1a1a1a" stroke-width="0.25" >2</text>
<line x1="285.26" y1="446.30" x2="285.26" y2="447.90" stroke="#333333" stroke-width="0.85" stroke-linecap="butt"/>
<text x="285.26" y="456.60" font-size="10.0" text-anchor="middle" fill="#1a1a1a" font-weight="normal" stroke="#1a1a1a" stroke-width="0.25" >3</text>
<line x1="297.92" y1="446.30" x2="297.92" y2="447.90" stroke="#333333" stroke-width="0.85" stroke-linecap="butt"/>
<text x="297.92" y="456.60" font-size="10.0" text-anchor="middle" fill="#1a1a1a" font-weight="normal" stroke="#1a1a1a" stroke-width="0.25" >4</text>
<line x1="310.57" y1="446.30" x2="310.57" y2="447.90" stroke="#333333" stroke-width="0.85" stroke-linecap="butt"/>
<text x="310.57" y="456.60" font-size="10.0" text-anchor="middle" fill="#1a1a1a" font-weight="normal" stroke="#1a1a1a" stroke-width="0.25" >5</text>
<line x1="323.23" y1="446.30" x2="323.23" y2="447.90" stroke="#333333" stroke-width="0.85" stroke-linecap="butt"/>
<text x="323.23" y="456.60" font-size="10.0" text-anchor="middle" fill="#1a1a1a" font-weight="normal" stroke="#1a1a1a" stroke-width="0.25" >6</text>
<line x1="335.88" y1="446.30" x2="335.88" y2="447.90" stroke="#333333" stroke-width="0.85" stroke-linecap="butt"/>
<text x="335.88" y="456.60" font-size="10.0" text-anchor="middle" fill="#1a1a1a" font-weight="normal" stroke="#1a1a1a" stroke-width="0.25" >7</text>
<line x1="348.54" y1="446.30" x2="348.54" y2="447.90" stroke="#333333" stroke-width="0.85" stroke-linecap="butt"/>
<text x="348.54" y="456.60" font-size="10.0" text-anchor="middle" fill="#1a1a1a" font-weight="normal" stroke="#1a1a1a" stroke-width="0.25" >8</text>
<line x1="361.19" y1="446.30" x2="361.19" y2="447.90" stroke="#333333" stroke-width="0.85" stroke-linecap="butt"/>
<text x="361.19" y="456.60" font-size="10.0" text-anchor="middle" fill="#1a1a1a" font-weight="normal" stroke="#1a1a1a" stroke-width="0.25" >9</text>
<line x1="373.85" y1="446.30" x2="373.85" y2="447.90" stroke="#333333" stroke-width="0.85" stroke-linecap="butt"/>
<text x="373.85" y="456.60" font-size="10.0" text-anchor="middle" fill="#1a1a1a" font-weight="normal" stroke="#1a1a1a" stroke-width="0.25" >10</text>
<line x1="386.50" y1="446.30" x2="386.50" y2="447.90" stroke="#333333" stroke-width="0.85" stroke-linecap="butt"/>
<text x="386.50" y="456.60" font-size="10.0" text-anchor="middle" fill="#1a1a1a" font-weight="normal" stroke="#1a1a1a" stroke-width="0.25" >11</text>
<line x1="399.16" y1="446.30" x2="399.16" y2="447.90" stroke="#333333" stroke-width="0.85" stroke-linecap="butt"/>
<text x="399.16" y="456.60" font-size="10.0" text-anchor="middle" fill="#1a1a1a" font-weight="normal" stroke="#1a1a1a" stroke-width="0.25" >12</text>
<line x1="411.81" y1="446.30" x2="411.81" y2="447.90" stroke="#333333" stroke-width="0.85" stroke-linecap="butt"/>
<text x="411.81" y="456.60" font-size="10.0" text-anchor="middle" fill="#1a1a1a" font-weight="normal" stroke="#1a1a1a" stroke-width="0.25" >13</text>
<line x1="424.47" y1="446.30" x2="424.47" y2="447.90" stroke="#333333" stroke-width="0.85" stroke-linecap="butt"/>
<text x="424.47" y="456.60" font-size="10.0" text-anchor="middle" fill="#1a1a1a" font-weight="normal" stroke="#1a1a1a" stroke-width="0.25" >14</text>
<rect x="437.80" y="416.75" width="5.65" height="25.40" fill="#52A79F"/>
<rect x="443.45" y="403.35" width="5.65" height="38.80" fill="#A12A27"/>
<rect x="488.42" y="441.25" width="5.65" height="0.90" fill="#52A79F"/>
<rect x="494.07" y="439.95" width="5.65" height="2.20" fill="#A12A27"/>
<rect x="501.07" y="405.65" width="5.65" height="36.50" fill="#52A79F"/>
<rect x="506.72" y="380.15" width="5.65" height="62.00" fill="#A12A27"/>
<rect x="526.38" y="441.95" width="5.65" height="0.20" fill="#52A79F"/>
<rect x="539.04" y="441.85" width="5.65" height="0.30" fill="#52A79F"/>
<rect x="544.69" y="441.75" width="5.65" height="0.40" fill="#A12A27"/>
<rect x="551.70" y="433.65" width="5.65" height="8.50" fill="#52A79F"/>
<rect x="557.35" y="434.85" width="5.65" height="7.30" fill="#A12A27"/>
<rect x="564.35" y="362.75" width="5.65" height="79.40" fill="#52A79F"/>
<rect x="570.00" y="375.85" width="5.65" height="66.30" fill="#A12A27"/>
<rect x="577.00" y="413.95" width="5.65" height="28.20" fill="#52A79F"/>
<rect x="582.65" y="429.35" width="5.65" height="12.80" fill="#A12A27"/>
<rect x="589.66" y="430.25" width="5.65" height="11.90" fill="#52A79F"/>
<rect x="595.31" y="437.95" width="5.65" height="4.20" fill="#A12A27"/>
<rect x="602.31" y="439.15" width="5.65" height="3.00" fill="#52A79F"/>
<rect x="607.96" y="441.45" width="5.65" height="0.70" fill="#A12A27"/>
<rect x="436.30" y="341.35" width="192.10" height="16.95" fill="#fff" stroke="#333333" stroke-width="0.85"/>
<text x="532.65" y="354.63" font-size="13.6" text-anchor="middle" fill="#1a1a1a" font-weight="normal" stroke="#1a1a1a" stroke-width="0.25" >NADP</text>
<line x1="436.30" y1="446.30" x2="629.00" y2="446.30" stroke="#333333" stroke-width="0.85" stroke-linecap="butt"/>
<line x1="443.45" y1="446.30" x2="443.45" y2="447.90" stroke="#333333" stroke-width="0.85" stroke-linecap="butt"/>
<text x="443.45" y="456.60" font-size="10.0" text-anchor="middle" fill="#1a1a1a" font-weight="normal" stroke="#1a1a1a" stroke-width="0.25" >0</text>
<line x1="456.10" y1="446.30" x2="456.10" y2="447.90" stroke="#333333" stroke-width="0.85" stroke-linecap="butt"/>
<text x="456.10" y="456.60" font-size="10.0" text-anchor="middle" fill="#1a1a1a" font-weight="normal" stroke="#1a1a1a" stroke-width="0.25" >1</text>
<line x1="468.76" y1="446.30" x2="468.76" y2="447.90" stroke="#333333" stroke-width="0.85" stroke-linecap="butt"/>
<text x="468.76" y="456.60" font-size="10.0" text-anchor="middle" fill="#1a1a1a" font-weight="normal" stroke="#1a1a1a" stroke-width="0.25" >2</text>
<line x1="481.41" y1="446.30" x2="481.41" y2="447.90" stroke="#333333" stroke-width="0.85" stroke-linecap="butt"/>
<text x="481.41" y="456.60" font-size="10.0" text-anchor="middle" fill="#1a1a1a" font-weight="normal" stroke="#1a1a1a" stroke-width="0.25" >3</text>
<line x1="494.07" y1="446.30" x2="494.07" y2="447.90" stroke="#333333" stroke-width="0.85" stroke-linecap="butt"/>
<text x="494.07" y="456.60" font-size="10.0" text-anchor="middle" fill="#1a1a1a" font-weight="normal" stroke="#1a1a1a" stroke-width="0.25" >4</text>
<line x1="506.72" y1="446.30" x2="506.72" y2="447.90" stroke="#333333" stroke-width="0.85" stroke-linecap="butt"/>
<text x="506.72" y="456.60" font-size="10.0" text-anchor="middle" fill="#1a1a1a" font-weight="normal" stroke="#1a1a1a" stroke-width="0.25" >5</text>
<line x1="519.38" y1="446.30" x2="519.38" y2="447.90" stroke="#333333" stroke-width="0.85" stroke-linecap="butt"/>
<text x="519.38" y="456.60" font-size="10.0" text-anchor="middle" fill="#1a1a1a" font-weight="normal" stroke="#1a1a1a" stroke-width="0.25" >6</text>
<line x1="532.03" y1="446.30" x2="532.03" y2="447.90" stroke="#333333" stroke-width="0.85" stroke-linecap="butt"/>
<text x="532.03" y="456.60" font-size="10.0" text-anchor="middle" fill="#1a1a1a" font-weight="normal" stroke="#1a1a1a" stroke-width="0.25" >7</text>
<line x1="544.69" y1="446.30" x2="544.69" y2="447.90" stroke="#333333" stroke-width="0.85" stroke-linecap="butt"/>
<text x="544.69" y="456.60" font-size="10.0" text-anchor="middle" fill="#1a1a1a" font-weight="normal" stroke="#1a1a1a" stroke-width="0.25" >8</text>
<line x1="557.35" y1="446.30" x2="557.35" y2="447.90" stroke="#333333" stroke-width="0.85" stroke-linecap="butt"/>
<text x="557.35" y="456.60" font-size="10.0" text-anchor="middle" fill="#1a1a1a" font-weight="normal" stroke="#1a1a1a" stroke-width="0.25" >9</text>
<line x1="570.00" y1="446.30" x2="570.00" y2="447.90" stroke="#333333" stroke-width="0.85" stroke-linecap="butt"/>
<text x="570.00" y="456.60" font-size="10.0" text-anchor="middle" fill="#1a1a1a" font-weight="normal" stroke="#1a1a1a" stroke-width="0.25" >10</text>
<line x1="582.65" y1="446.30" x2="582.65" y2="447.90" stroke="#333333" stroke-width="0.85" stroke-linecap="butt"/>
<text x="582.65" y="456.60" font-size="10.0" text-anchor="middle" fill="#1a1a1a" font-weight="normal" stroke="#1a1a1a" stroke-width="0.25" >11</text>
<line x1="595.31" y1="446.30" x2="595.31" y2="447.90" stroke="#333333" stroke-width="0.85" stroke-linecap="butt"/>
<text x="595.31" y="456.60" font-size="10.0" text-anchor="middle" fill="#1a1a1a" font-weight="normal" stroke="#1a1a1a" stroke-width="0.25" >12</text>
<line x1="607.96" y1="446.30" x2="607.96" y2="447.90" stroke="#333333" stroke-width="0.85" stroke-linecap="butt"/>
<text x="607.96" y="456.60" font-size="10.0" text-anchor="middle" fill="#1a1a1a" font-weight="normal" stroke="#1a1a1a" stroke-width="0.25" >13</text>
<line x1="620.62" y1="446.30" x2="620.62" y2="447.90" stroke="#333333" stroke-width="0.85" stroke-linecap="butt"/>
<text x="620.62" y="456.60" font-size="10.0" text-anchor="middle" fill="#1a1a1a" font-weight="normal" stroke="#1a1a1a" stroke-width="0.25" >14</text>
<text transform="translate(18.1,233.50) rotate(-90)" font-size="16" text-anchor="middle" fill="#000" stroke="#000" stroke-width="0.2">Fraction</text>
<text x="335.00" y="476.30" font-size="16" text-anchor="middle" fill="#000" font-weight="normal" stroke="#000" stroke-width="0.2" >Isotopologue</text>
<rect x="631.00" y="40.25" width="7.80" height="12.30" fill="#52A79F"/>
<rect x="631.00" y="55.05" width="7.80" height="12.05" fill="#A12A27"/>
<text x="641.0" y="50.2" font-size="9.3" fill="#111" stroke="#111" stroke-width="0.2">ADA2<tspan dy="-2.8" dx="0.4" font-size="5.2" font-style="italic" stroke-width="0.25">WT/WT</tspan></text>
<text x="641.0" y="65.7" font-size="9.3" fill="#111" stroke="#111" stroke-width="0.2">ADA2<tspan dy="-2.8" dx="0.4" font-size="5.2" stroke-width="0.15">-/-</tspan></text>
<text x="1.40" y="505.70" font-size="24" text-anchor="start" fill="#000" font-weight="bold" stroke="#000" stroke-width="0.1" >B</text>
<rect x="46.21" y="549.60" width="5.90" height="54.40" fill="#52A79F"/>
<rect x="52.11" y="533.60" width="5.90" height="70.40" fill="#A12A27"/>
<rect x="58.97" y="603.40" width="5.90" height="0.60" fill="#52A79F"/>
<rect x="71.73" y="600.80" width="5.90" height="3.20" fill="#52A79F"/>
<rect x="77.63" y="602.90" width="5.90" height="1.10" fill="#A12A27"/>
<rect x="84.50" y="603.00" width="5.90" height="1.00" fill="#52A79F"/>
<rect x="90.40" y="603.20" width="5.90" height="0.80" fill="#A12A27"/>
<rect x="97.26" y="599.90" width="5.90" height="4.10" fill="#52A79F"/>
<rect x="103.16" y="600.80" width="5.90" height="3.20" fill="#A12A27"/>
<rect x="110.03" y="563.70" width="5.90" height="40.30" fill="#52A79F"/>
<rect x="115.93" y="573.90" width="5.90" height="30.10" fill="#A12A27"/>
<rect x="122.79" y="602.30" width="5.90" height="1.70" fill="#52A79F"/>
<rect x="128.69" y="603.50" width="5.90" height="0.50" fill="#A12A27"/>
<rect x="44.45" y="509.30" width="142.95" height="17.00" fill="#fff" stroke="#333333" stroke-width="0.85"/>
<text x="116.22" y="522.60" font-size="13.6" text-anchor="middle" fill="#1a1a1a" font-weight="normal" stroke="#1a1a1a" stroke-width="0.25" >AMP</text>
<line x1="44.45" y1="526.30" x2="44.45" y2="608.12" stroke="#333333" stroke-width="0.85" stroke-linecap="butt"/>
<line x1="42.55" y1="604.00" x2="44.45" y2="604.00" stroke="#333333" stroke-width="0.85" stroke-linecap="butt"/>
<text x="41.15" y="607.20" font-size="10.0" text-anchor="end" fill="#1a1a1a" font-weight="normal" stroke="#1a1a1a" stroke-width="0.25" >0.0</text>
<line x1="42.55" y1="582.86" x2="44.45" y2="582.86" stroke="#333333" stroke-width="0.85" stroke-linecap="butt"/>
<text x="41.15" y="586.06" font-size="10.0" text-anchor="end" fill="#1a1a1a" font-weight="normal" stroke="#1a1a1a" stroke-width="0.25" >0.2</text>
<line x1="42.55" y1="561.72" x2="44.45" y2="561.72" stroke="#333333" stroke-width="0.85" stroke-linecap="butt"/>
<text x="41.15" y="564.92" font-size="10.0" text-anchor="end" fill="#1a1a1a" font-weight="normal" stroke="#1a1a1a" stroke-width="0.25" >0.4</text>
<line x1="42.55" y1="540.58" x2="44.45" y2="540.58" stroke="#333333" stroke-width="0.85" stroke-linecap="butt"/>
<text x="41.15" y="543.78" font-size="10.0" text-anchor="end" fill="#1a1a1a" font-weight="normal" stroke="#1a1a1a" stroke-width="0.25" >0.6</text>
<rect x="193.31" y="539.00" width="5.90" height="65.00" fill="#52A79F"/>
<rect x="199.21" y="529.80" width="5.90" height="74.20" fill="#A12A27"/>
<rect x="231.60" y="603.50" width="5.90" height="0.50" fill="#52A79F"/>
<rect x="237.50" y="603.50" width="5.90" height="0.50" fill="#A12A27"/>
<rect x="244.36" y="601.00" width="5.90" height="3.00" fill="#52A79F"/>
<rect x="250.26" y="602.10" width="5.90" height="1.90" fill="#A12A27"/>
<rect x="257.13" y="582.30" width="5.90" height="21.70" fill="#52A79F"/>
<rect x="263.03" y="586.70" width="5.90" height="17.30" fill="#A12A27"/>
<rect x="269.89" y="599.90" width="5.90" height="4.10" fill="#52A79F"/>
<rect x="275.79" y="600.80" width="5.90" height="3.20" fill="#A12A27"/>
<rect x="282.65" y="596.10" width="5.90" height="7.90" fill="#52A79F"/>
<rect x="288.55" y="597.80" width="5.90" height="6.20" fill="#A12A27"/>
<rect x="295.42" y="599.90" width="5.90" height="4.10" fill="#52A79F"/>
<rect x="301.32" y="601.90" width="5.90" height="2.10" fill="#A12A27"/>
<rect x="191.55" y="509.30" width="142.95" height="17.00" fill="#fff" stroke="#333333" stroke-width="0.85"/>
<text x="263.32" y="522.60" font-size="13.6" text-anchor="middle" fill="#1a1a1a" font-weight="normal" stroke="#1a1a1a" stroke-width="0.25" >CMP</text>
<rect x="340.31" y="558.60" width="5.90" height="45.40" fill="#52A79F"/>
<rect x="346.21" y="546.40" width="5.90" height="57.60" fill="#A12A27"/>
<rect x="353.07" y="603.30" width="5.90" height="0.70" fill="#52A79F"/>
<rect x="358.97" y="603.60" width="5.90" height="0.40" fill="#A12A27"/>
<rect x="365.83" y="599.90" width="5.90" height="4.10" fill="#52A79F"/>
<rect x="371.73" y="602.50" width="5.90" height="1.50" fill="#A12A27"/>
<rect x="378.60" y="603.00" width="5.90" height="1.00" fill="#52A79F"/>
<rect x="384.50" y="603.30" width="5.90" height="0.70" fill="#A12A27"/>
<rect x="391.36" y="599.10" width="5.90" height="4.90" fill="#52A79F"/>
<rect x="397.26" y="599.90" width="5.90" height="4.10" fill="#A12A27"/>
<rect x="404.12" y="556.00" width="5.90" height="48.00" fill="#52A79F"/>
<rect x="410.02" y="562.60" width="5.90" height="41.40" fill="#A12A27"/>
<rect x="416.89" y="603.10" width="5.90" height="0.90" fill="#52A79F"/>
<rect x="338.55" y="509.30" width="142.95" height="17.00" fill="#fff" stroke="#333333" stroke-width="0.85"/>
<text x="410.32" y="522.60" font-size="13.6" text-anchor="middle" fill="#1a1a1a" font-weight="normal" stroke="#1a1a1a" stroke-width="0.25" >GMP</text>
<rect x="487.34" y="558.20" width="5.90" height="45.80" fill="#52A79F"/>
<rect x="493.24" y="551.80" width="5.90" height="52.20" fill="#A12A27"/>
<rect x="500.10" y="603.80" width="5.90" height="0.20" fill="#52A79F"/>
<rect x="512.86" y="602.10" width="5.90" height="1.90" fill="#52A79F"/>
<rect x="518.76" y="603.50" width="5.90" height="0.50" fill="#A12A27"/>
<rect x="525.63" y="602.70" width="5.90" height="1.30" fill="#52A79F"/>
<rect x="531.53" y="602.90" width="5.90" height="1.10" fill="#A12A27"/>
<rect x="538.39" y="600.60" width="5.90" height="3.40" fill="#52A79F"/>
<rect x="544.29" y="601.00" width="5.90" height="3.00" fill="#A12A27"/>
<rect x="551.15" y="578.40" width="5.90" height="25.60" fill="#52A79F"/>
<rect x="557.05" y="581.60" width="5.90" height="22.40" fill="#A12A27"/>
<rect x="563.92" y="595.70" width="5.90" height="8.30" fill="#52A79F"/>
<rect x="569.82" y="596.50" width="5.90" height="7.50" fill="#A12A27"/>
<rect x="576.68" y="592.70" width="5.90" height="11.30" fill="#52A79F"/>
<rect x="582.58" y="592.90" width="5.90" height="11.10" fill="#A12A27"/>
<rect x="589.45" y="597.00" width="5.90" height="7.00" fill="#52A79F"/>
<rect x="595.35" y="596.50" width="5.90" height="7.50" fill="#A12A27"/>
<rect x="485.58" y="509.30" width="142.95" height="17.00" fill="#fff" stroke="#333333" stroke-width="0.85"/>
<text x="557.35" y="522.60" font-size="13.6" text-anchor="middle" fill="#1a1a1a" font-weight="normal" stroke="#1a1a1a" stroke-width="0.25" >UMP</text>
<rect x="46.21" y="650.65" width="5.90" height="55.70" fill="#52A79F"/>
<rect x="52.11" y="635.15" width="5.90" height="71.20" fill="#A12A27"/>
<rect x="71.73" y="702.95" width="5.90" height="3.40" fill="#52A79F"/>
<rect x="77.63" y="705.35" width="5.90" height="1.00" fill="#A12A27"/>
<rect x="84.50" y="705.45" width="5.90" height="0.90" fill="#52A79F"/>
<rect x="90.40" y="705.75" width="5.90" height="0.60" fill="#A12A27"/>
<rect x="97.26" y="702.05" width="5.90" height="4.30" fill="#52A79F"/>
<rect x="103.16" y="703.15" width="5.90" height="3.20" fill="#A12A27"/>
<rect x="110.03" y="665.85" width="5.90" height="40.50" fill="#52A79F"/>
<rect x="115.93" y="676.45" width="5.90" height="29.90" fill="#A12A27"/>
<rect x="122.79" y="705.35" width="5.90" height="1.00" fill="#52A79F"/>
<rect x="44.45" y="611.65" width="142.95" height="17.00" fill="#fff" stroke="#333333" stroke-width="0.85"/>
<text x="116.22" y="624.95" font-size="13.6" text-anchor="middle" fill="#1a1a1a" font-weight="normal" stroke="#1a1a1a" stroke-width="0.25" >ADP</text>
<line x1="44.45" y1="628.65" x2="44.45" y2="710.47" stroke="#333333" stroke-width="0.85" stroke-linecap="butt"/>
<line x1="42.55" y1="706.35" x2="44.45" y2="706.35" stroke="#333333" stroke-width="0.85" stroke-linecap="butt"/>
<text x="41.15" y="709.55" font-size="10.0" text-anchor="end" fill="#1a1a1a" font-weight="normal" stroke="#1a1a1a" stroke-width="0.25" >0.0</text>
<line x1="42.55" y1="685.21" x2="44.45" y2="685.21" stroke="#333333" stroke-width="0.85" stroke-linecap="butt"/>
<text x="41.15" y="688.41" font-size="10.0" text-anchor="end" fill="#1a1a1a" font-weight="normal" stroke="#1a1a1a" stroke-width="0.25" >0.2</text>
<line x1="42.55" y1="664.07" x2="44.45" y2="664.07" stroke="#333333" stroke-width="0.85" stroke-linecap="butt"/>
<text x="41.15" y="667.27" font-size="10.0" text-anchor="end" fill="#1a1a1a" font-weight="normal" stroke="#1a1a1a" stroke-width="0.25" >0.4</text>
<line x1="42.55" y1="642.93" x2="44.45" y2="642.93" stroke="#333333" stroke-width="0.85" stroke-linecap="butt"/>
<text x="41.15" y="646.13" font-size="10.0" text-anchor="end" fill="#1a1a1a" font-weight="normal" stroke="#1a1a1a" stroke-width="0.25" >0.6</text>
<rect x="193.31" y="643.85" width="5.90" height="62.50" fill="#52A79F"/>
<rect x="199.21" y="636.65" width="5.90" height="69.70" fill="#A12A27"/>
<rect x="218.83" y="705.65" width="5.90" height="0.70" fill="#52A79F"/>
<rect x="231.60" y="705.45" width="5.90" height="0.90" fill="#52A79F"/>
<rect x="237.50" y="705.85" width="5.90" height="0.50" fill="#A12A27"/>
<rect x="244.36" y="704.05" width="5.90" height="2.30" fill="#52A79F"/>
<rect x="250.26" y="704.45" width="5.90" height="1.90" fill="#A12A27"/>
<rect x="257.13" y="685.85" width="5.90" height="20.50" fill="#52A79F"/>
<rect x="263.03" y="689.75" width="5.90" height="16.60" fill="#A12A27"/>
<rect x="269.89" y="700.55" width="5.90" height="5.80" fill="#52A79F"/>
<rect x="275.79" y="701.65" width="5.90" height="4.70" fill="#A12A27"/>
<rect x="282.65" y="698.05" width="5.90" height="8.30" fill="#52A79F"/>
<rect x="288.55" y="699.15" width="5.90" height="7.20" fill="#A12A27"/>
<rect x="295.42" y="701.65" width="5.90" height="4.70" fill="#52A79F"/>
<rect x="301.32" y="701.85" width="5.90" height="4.50" fill="#A12A27"/>
<rect x="191.55" y="611.65" width="142.95" height="17.00" fill="#fff" stroke="#333333" stroke-width="0.85"/>
<text x="263.32" y="624.95" font-size="13.6" text-anchor="middle" fill="#1a1a1a" font-weight="normal" stroke="#1a1a1a" stroke-width="0.25" >CDP</text>
<rect x="340.31" y="658.85" width="5.90" height="47.50" fill="#52A79F"/>
<rect x="346.21" y="648.95" width="5.90" height="57.40" fill="#A12A27"/>
<rect x="365.83" y="701.85" width="5.90" height="4.50" fill="#52A79F"/>
<rect x="371.73" y="704.45" width="5.90" height="1.90" fill="#A12A27"/>
<rect x="378.60" y="705.35" width="5.90" height="1.00" fill="#52A79F"/>
<rect x="384.50" y="705.65" width="5.90" height="0.70" fill="#A12A27"/>
<rect x="391.36" y="701.45" width="5.90" height="4.90" fill="#52A79F"/>
<rect x="397.26" y="701.85" width="5.90" height="4.50" fill="#A12A27"/>
<rect x="404.12" y="659.05" width="5.90" height="47.30" fill="#52A79F"/>
<rect x="410.02" y="664.95" width="5.90" height="41.40" fill="#A12A27"/>
<rect x="416.89" y="705.95" width="5.90" height="0.40" fill="#52A79F"/>
<rect x="338.55" y="611.65" width="142.95" height="17.00" fill="#fff" stroke="#333333" stroke-width="0.85"/>
<text x="410.32" y="624.95" font-size="13.6" text-anchor="middle" fill="#1a1a1a" font-weight="normal" stroke="#1a1a1a" stroke-width="0.25" >GDP</text>
<rect x="487.34" y="662.45" width="5.90" height="43.90" fill="#52A79F"/>
<rect x="493.24" y="655.65" width="5.90" height="50.70" fill="#A12A27"/>
<rect x="512.86" y="704.25" width="5.90" height="2.10" fill="#52A79F"/>
<rect x="518.76" y="705.95" width="5.90" height="0.40" fill="#A12A27"/>
<rect x="525.63" y="704.85" width="5.90" height="1.50" fill="#52A79F"/>
<rect x="531.53" y="705.05" width="5.90" height="1.30" fill="#A12A27"/>
<rect x="538.39" y="702.75" width="5.90" height="3.60" fill="#52A79F"/>
<rect x="544.29" y="703.35" width="5.90" height="3.00" fill="#A12A27"/>
<rect x="551.15" y="680.15" width="5.90" height="26.20" fill="#52A79F"/>
<rect x="557.05" y="683.55" width="5.90" height="22.80" fill="#A12A27"/>
<rect x="563.92" y="697.85" width="5.90" height="8.50" fill="#52A79F"/>
<rect x="569.82" y="698.65" width="5.90" height="7.70" fill="#A12A27"/>
<rect x="576.68" y="694.15" width="5.90" height="12.20" fill="#52A79F"/>
<rect x="582.58" y="694.85" width="5.90" height="11.50" fill="#A12A27"/>
<rect x="589.45" y="698.85" width="5.90" height="7.50" fill="#52A79F"/>
<rect x="595.35" y="698.45" width="5.90" height="7.90" fill="#A12A27"/>
<rect x="485.58" y="611.65" width="142.95" height="17.00" fill="#fff" stroke="#333333" stroke-width="0.85"/>
<text x="557.35" y="624.95" font-size="13.6" text-anchor="middle" fill="#1a1a1a" font-weight="normal" stroke="#1a1a1a" stroke-width="0.25" >UDP</text>
<rect x="46.21" y="753.30" width="5.90" height="55.40" fill="#52A79F"/>
<rect x="52.11" y="737.90" width="5.90" height="70.80" fill="#A12A27"/>
<rect x="71.73" y="805.10" width="5.90" height="3.60" fill="#52A79F"/>
<rect x="77.63" y="807.40" width="5.90" height="1.30" fill="#A12A27"/>
<rect x="84.50" y="807.80" width="5.90" height="0.90" fill="#52A79F"/>
<rect x="90.40" y="808.10" width="5.90" height="0.60" fill="#A12A27"/>
<rect x="97.26" y="804.40" width="5.90" height="4.30" fill="#52A79F"/>
<rect x="103.16" y="805.70" width="5.90" height="3.00" fill="#A12A27"/>
<rect x="110.03" y="768.60" width="5.90" height="40.10" fill="#52A79F"/>
<rect x="115.93" y="778.80" width="5.90" height="29.90" fill="#A12A27"/>
<rect x="122.79" y="807.80" width="5.90" height="0.90" fill="#52A79F"/>
<rect x="44.45" y="714.00" width="142.95" height="17.00" fill="#fff" stroke="#333333" stroke-width="0.85"/>
<text x="116.22" y="727.30" font-size="13.6" text-anchor="middle" fill="#1a1a1a" font-weight="normal" stroke="#1a1a1a" stroke-width="0.25" >ATP</text>
<line x1="44.45" y1="731.00" x2="44.45" y2="812.82" stroke="#333333" stroke-width="0.85" stroke-linecap="butt"/>
<line x1="42.55" y1="808.70" x2="44.45" y2="808.70" stroke="#333333" stroke-width="0.85" stroke-linecap="butt"/>
<text x="41.15" y="811.90" font-size="10.0" text-anchor="end" fill="#1a1a1a" font-weight="normal" stroke="#1a1a1a" stroke-width="0.25" >0.0</text>
<line x1="42.55" y1="787.56" x2="44.45" y2="787.56" stroke="#333333" stroke-width="0.85" stroke-linecap="butt"/>
<text x="41.15" y="790.76" font-size="10.0" text-anchor="end" fill="#1a1a1a" font-weight="normal" stroke="#1a1a1a" stroke-width="0.25" >0.2</text>
<line x1="42.55" y1="766.42" x2="44.45" y2="766.42" stroke="#333333" stroke-width="0.85" stroke-linecap="butt"/>
<text x="41.15" y="769.62" font-size="10.0" text-anchor="end" fill="#1a1a1a" font-weight="normal" stroke="#1a1a1a" stroke-width="0.25" >0.4</text>
<line x1="42.55" y1="745.28" x2="44.45" y2="745.28" stroke="#333333" stroke-width="0.85" stroke-linecap="butt"/>
<text x="41.15" y="748.48" font-size="10.0" text-anchor="end" fill="#1a1a1a" font-weight="normal" stroke="#1a1a1a" stroke-width="0.25" >0.6</text>
<line x1="44.45" y1="812.40" x2="188.00" y2="812.40" stroke="#333333" stroke-width="0.85" stroke-linecap="butt"/>
<line x1="52.11" y1="812.40" x2="52.11" y2="814.00" stroke="#333333" stroke-width="0.85" stroke-linecap="butt"/>
<text x="52.11" y="822.70" font-size="10.0" text-anchor="middle" fill="#1a1a1a" font-weight="normal" stroke="#1a1a1a" stroke-width="0.25" >0</text>
<line x1="64.87" y1="812.40" x2="64.87" y2="814.00" stroke="#333333" stroke-width="0.85" stroke-linecap="butt"/>
<text x="64.87" y="822.70" font-size="10.0" text-anchor="middle" fill="#1a1a1a" font-weight="normal" stroke="#1a1a1a" stroke-width="0.25" >1</text>
<line x1="77.63" y1="812.40" x2="77.63" y2="814.00" stroke="#333333" stroke-width="0.85" stroke-linecap="butt"/>
<text x="77.63" y="822.70" font-size="10.0" text-anchor="middle" fill="#1a1a1a" font-weight="normal" stroke="#1a1a1a" stroke-width="0.25" >2</text>
<line x1="90.40" y1="812.40" x2="90.40" y2="814.00" stroke="#333333" stroke-width="0.85" stroke-linecap="butt"/>
<text x="90.40" y="822.70" font-size="10.0" text-anchor="middle" fill="#1a1a1a" font-weight="normal" stroke="#1a1a1a" stroke-width="0.25" >3</text>
<line x1="103.16" y1="812.40" x2="103.16" y2="814.00" stroke="#333333" stroke-width="0.85" stroke-linecap="butt"/>
<text x="103.16" y="822.70" font-size="10.0" text-anchor="middle" fill="#1a1a1a" font-weight="normal" stroke="#1a1a1a" stroke-width="0.25" >4</text>
<line x1="115.93" y1="812.40" x2="115.93" y2="814.00" stroke="#333333" stroke-width="0.85" stroke-linecap="butt"/>
<text x="115.93" y="822.70" font-size="10.0" text-anchor="middle" fill="#1a1a1a" font-weight="normal" stroke="#1a1a1a" stroke-width="0.25" >5</text>
<line x1="128.69" y1="812.40" x2="128.69" y2="814.00" stroke="#333333" stroke-width="0.85" stroke-linecap="butt"/>
<text x="128.69" y="822.70" font-size="10.0" text-anchor="middle" fill="#1a1a1a" font-weight="normal" stroke="#1a1a1a" stroke-width="0.25" >6</text>
<line x1="141.45" y1="812.40" x2="141.45" y2="814.00" stroke="#333333" stroke-width="0.85" stroke-linecap="butt"/>
<text x="141.45" y="822.70" font-size="10.0" text-anchor="middle" fill="#1a1a1a" font-weight="normal" stroke="#1a1a1a" stroke-width="0.25" >7</text>
<line x1="154.22" y1="812.40" x2="154.22" y2="814.00" stroke="#333333" stroke-width="0.85" stroke-linecap="butt"/>
<text x="154.22" y="822.70" font-size="10.0" text-anchor="middle" fill="#1a1a1a" font-weight="normal" stroke="#1a1a1a" stroke-width="0.25" >8</text>
<line x1="166.98" y1="812.40" x2="166.98" y2="814.00" stroke="#333333" stroke-width="0.85" stroke-linecap="butt"/>
<text x="166.98" y="822.70" font-size="10.0" text-anchor="middle" fill="#1a1a1a" font-weight="normal" stroke="#1a1a1a" stroke-width="0.25" >9</text>
<line x1="179.74" y1="812.40" x2="179.74" y2="814.00" stroke="#333333" stroke-width="0.85" stroke-linecap="butt"/>
<text x="179.74" y="822.70" font-size="10.0" text-anchor="middle" fill="#1a1a1a" font-weight="normal" stroke="#1a1a1a" stroke-width="0.25" >10</text>
<rect x="193.31" y="748.10" width="5.90" height="60.60" fill="#52A79F"/>
<rect x="199.21" y="740.90" width="5.90" height="67.80" fill="#A12A27"/>
<rect x="218.83" y="807.40" width="5.90" height="1.30" fill="#52A79F"/>
<rect x="224.73" y="808.30" width="5.90" height="0.40" fill="#A12A27"/>
<rect x="231.60" y="808.10" width="5.90" height="0.60" fill="#52A79F"/>
<rect x="237.50" y="808.10" width="5.90" height="0.60" fill="#A12A27"/>
<rect x="244.36" y="806.10" width="5.90" height="2.60" fill="#52A79F"/>
<rect x="250.26" y="806.80" width="5.90" height="1.90" fill="#A12A27"/>
<rect x="257.13" y="788.00" width="5.90" height="20.70" fill="#52A79F"/>
<rect x="263.03" y="791.90" width="5.90" height="16.80" fill="#A12A27"/>
<rect x="269.89" y="802.90" width="5.90" height="5.80" fill="#52A79F"/>
<rect x="275.79" y="804.00" width="5.90" height="4.70" fill="#A12A27"/>
<rect x="282.65" y="800.20" width="5.90" height="8.50" fill="#52A79F"/>
<rect x="288.55" y="801.00" width="5.90" height="7.70" fill="#A12A27"/>
<rect x="295.42" y="804.00" width="5.90" height="4.70" fill="#52A79F"/>
<rect x="301.32" y="804.00" width="5.90" height="4.70" fill="#A12A27"/>
<rect x="191.55" y="714.00" width="142.95" height="17.00" fill="#fff" stroke="#333333" stroke-width="0.85"/>
<text x="263.32" y="727.30" font-size="13.6" text-anchor="middle" fill="#1a1a1a" font-weight="normal" stroke="#1a1a1a" stroke-width="0.25" >CTP</text>
<line x1="191.55" y1="812.40" x2="335.10" y2="812.40" stroke="#333333" stroke-width="0.85" stroke-linecap="butt"/>
<line x1="199.21" y1="812.40" x2="199.21" y2="814.00" stroke="#333333" stroke-width="0.85" stroke-linecap="butt"/>
<text x="199.21" y="822.70" font-size="10.0" text-anchor="middle" fill="#1a1a1a" font-weight="normal" stroke="#1a1a1a" stroke-width="0.25" >0</text>
<line x1="211.97" y1="812.40" x2="211.97" y2="814.00" stroke="#333333" stroke-width="0.85" stroke-linecap="butt"/>
<text x="211.97" y="822.70" font-size="10.0" text-anchor="middle" fill="#1a1a1a" font-weight="normal" stroke="#1a1a1a" stroke-width="0.25" >1</text>
<line x1="224.73" y1="812.40" x2="224.73" y2="814.00" stroke="#333333" stroke-width="0.85" stroke-linecap="butt"/>
<text x="224.73" y="822.70" font-size="10.0" text-anchor="middle" fill="#1a1a1a" font-weight="normal" stroke="#1a1a1a" stroke-width="0.25" >2</text>
<line x1="237.50" y1="812.40" x2="237.50" y2="814.00" stroke="#333333" stroke-width="0.85" stroke-linecap="butt"/>
<text x="237.50" y="822.70" font-size="10.0" text-anchor="middle" fill="#1a1a1a" font-weight="normal" stroke="#1a1a1a" stroke-width="0.25" >3</text>
<line x1="250.26" y1="812.40" x2="250.26" y2="814.00" stroke="#333333" stroke-width="0.85" stroke-linecap="butt"/>
<text x="250.26" y="822.70" font-size="10.0" text-anchor="middle" fill="#1a1a1a" font-weight="normal" stroke="#1a1a1a" stroke-width="0.25" >4</text>
<line x1="263.03" y1="812.40" x2="263.03" y2="814.00" stroke="#333333" stroke-width="0.85" stroke-linecap="butt"/>
<text x="263.03" y="822.70" font-size="10.0" text-anchor="middle" fill="#1a1a1a" font-weight="normal" stroke="#1a1a1a" stroke-width="0.25" >5</text>
<line x1="275.79" y1="812.40" x2="275.79" y2="814.00" stroke="#333333" stroke-width="0.85" stroke-linecap="butt"/>
<text x="275.79" y="822.70" font-size="10.0" text-anchor="middle" fill="#1a1a1a" font-weight="normal" stroke="#1a1a1a" stroke-width="0.25" >6</text>
<line x1="288.55" y1="812.40" x2="288.55" y2="814.00" stroke="#333333" stroke-width="0.85" stroke-linecap="butt"/>
<text x="288.55" y="822.70" font-size="10.0" text-anchor="middle" fill="#1a1a1a" font-weight="normal" stroke="#1a1a1a" stroke-width="0.25" >7</text>
<line x1="301.32" y1="812.40" x2="301.32" y2="814.00" stroke="#333333" stroke-width="0.85" stroke-linecap="butt"/>
<text x="301.32" y="822.70" font-size="10.0" text-anchor="middle" fill="#1a1a1a" font-weight="normal" stroke="#1a1a1a" stroke-width="0.25" >8</text>
<line x1="314.08" y1="812.40" x2="314.08" y2="814.00" stroke="#333333" stroke-width="0.85" stroke-linecap="butt"/>
<text x="314.08" y="822.70" font-size="10.0" text-anchor="middle" fill="#1a1a1a" font-weight="normal" stroke="#1a1a1a" stroke-width="0.25" >9</text>
<line x1="326.84" y1="812.40" x2="326.84" y2="814.00" stroke="#333333" stroke-width="0.85" stroke-linecap="butt"/>
<text x="326.84" y="822.70" font-size="10.0" text-anchor="middle" fill="#1a1a1a" font-weight="normal" stroke="#1a1a1a" stroke-width="0.25" >10</text>
<rect x="340.31" y="758.40" width="5.90" height="50.30" fill="#52A79F"/>
<rect x="346.21" y="748.80" width="5.90" height="59.90" fill="#A12A27"/>
<rect x="365.83" y="805.10" width="5.90" height="3.60" fill="#52A79F"/>
<rect x="371.73" y="807.80" width="5.90" height="0.90" fill="#A12A27"/>
<rect x="378.60" y="808.20" width="5.90" height="0.50" fill="#52A79F"/>
<rect x="384.50" y="808.40" width="5.90" height="0.30" fill="#A12A27"/>
<rect x="391.36" y="804.60" width="5.90" height="4.10" fill="#52A79F"/>
<rect x="397.26" y="805.70" width="5.90" height="3.00" fill="#A12A27"/>
<rect x="404.12" y="762.00" width="5.90" height="46.70" fill="#52A79F"/>
<rect x="410.02" y="767.80" width="5.90" height="40.90" fill="#A12A27"/>
<rect x="416.89" y="808.40" width="5.90" height="0.30" fill="#52A79F"/>
<rect x="338.55" y="714.00" width="142.95" height="17.00" fill="#fff" stroke="#333333" stroke-width="0.85"/>
<text x="410.32" y="727.30" font-size="13.6" text-anchor="middle" fill="#1a1a1a" font-weight="normal" stroke="#1a1a1a" stroke-width="0.25" >GTP</text>
<line x1="338.55" y1="812.40" x2="482.10" y2="812.40" stroke="#333333" stroke-width="0.85" stroke-linecap="butt"/>
<line x1="346.21" y1="812.40" x2="346.21" y2="814.00" stroke="#333333" stroke-width="0.85" stroke-linecap="butt"/>
<text x="346.21" y="822.70" font-size="10.0" text-anchor="middle" fill="#1a1a1a" font-weight="normal" stroke="#1a1a1a" stroke-width="0.25" >0</text>
<line x1="358.97" y1="812.40" x2="358.97" y2="814.00" stroke="#333333" stroke-width="0.85" stroke-linecap="butt"/>
<text x="358.97" y="822.70" font-size="10.0" text-anchor="middle" fill="#1a1a1a" font-weight="normal" stroke="#1a1a1a" stroke-width="0.25" >1</text>
<line x1="371.73" y1="812.40" x2="371.73" y2="814.00" stroke="#333333" stroke-width="0.85" stroke-linecap="butt"/>
<text x="371.73" y="822.70" font-size="10.0" text-anchor="middle" fill="#1a1a1a" font-weight="normal" stroke="#1a1a1a" stroke-width="0.25" >2</text>
<line x1="384.50" y1="812.40" x2="384.50" y2="814.00" stroke="#333333" stroke-width="0.85" stroke-linecap="butt"/>
<text x="384.50" y="822.70" font-size="10.0" text-anchor="middle" fill="#1a1a1a" font-weight="normal" stroke="#1a1a1a" stroke-width="0.25" >3</text>
<line x1="397.26" y1="812.40" x2="397.26" y2="814.00" stroke="#333333" stroke-width="0.85" stroke-linecap="butt"/>
<text x="397.26" y="822.70" font-size="10.0" text-anchor="middle" fill="#1a1a1a" font-weight="normal" stroke="#1a1a1a" stroke-width="0.25" >4</text>
<line x1="410.02" y1="812.40" x2="410.02" y2="814.00" stroke="#333333" stroke-width="0.85" stroke-linecap="butt"/>
<text x="410.02" y="822.70" font-size="10.0" text-anchor="middle" fill="#1a1a1a" font-weight="normal" stroke="#1a1a1a" stroke-width="0.25" >5</text>
<line x1="422.79" y1="812.40" x2="422.79" y2="814.00" stroke="#333333" stroke-width="0.85" stroke-linecap="butt"/>
<text x="422.79" y="822.70" font-size="10.0" text-anchor="middle" fill="#1a1a1a" font-weight="normal" stroke="#1a1a1a" stroke-width="0.25" >6</text>
<line x1="435.55" y1="812.40" x2="435.55" y2="814.00" stroke="#333333" stroke-width="0.85" stroke-linecap="butt"/>
<text x="435.55" y="822.70" font-size="10.0" text-anchor="middle" fill="#1a1a1a" font-weight="normal" stroke="#1a1a1a" stroke-width="0.25" >7</text>
<line x1="448.32" y1="812.40" x2="448.32" y2="814.00" stroke="#333333" stroke-width="0.85" stroke-linecap="butt"/>
<text x="448.32" y="822.70" font-size="10.0" text-anchor="middle" fill="#1a1a1a" font-weight="normal" stroke="#1a1a1a" stroke-width="0.25" >8</text>
<line x1="461.08" y1="812.40" x2="461.08" y2="814.00" stroke="#333333" stroke-width="0.85" stroke-linecap="butt"/>
<text x="461.08" y="822.70" font-size="10.0" text-anchor="middle" fill="#1a1a1a" font-weight="normal" stroke="#1a1a1a" stroke-width="0.25" >9</text>
<line x1="473.84" y1="812.40" x2="473.84" y2="814.00" stroke="#333333" stroke-width="0.85" stroke-linecap="butt"/>
<text x="473.84" y="822.70" font-size="10.0" text-anchor="middle" fill="#1a1a1a" font-weight="normal" stroke="#1a1a1a" stroke-width="0.25" >10</text>
<rect x="487.34" y="764.40" width="5.90" height="44.30" fill="#52A79F"/>
<rect x="493.24" y="757.70" width="5.90" height="51.00" fill="#A12A27"/>
<rect x="512.86" y="806.80" width="5.90" height="1.90" fill="#52A79F"/>
<rect x="518.76" y="808.10" width="5.90" height="0.60" fill="#A12A27"/>
<rect x="525.63" y="807.60" width="5.90" height="1.10" fill="#52A79F"/>
<rect x="531.53" y="808.00" width="5.90" height="0.70" fill="#A12A27"/>
<rect x="538.39" y="805.10" width="5.90" height="3.60" fill="#52A79F"/>
<rect x="544.29" y="805.90" width="5.90" height="2.80" fill="#A12A27"/>
<rect x="551.15" y="782.90" width="5.90" height="25.80" fill="#52A79F"/>
<rect x="557.05" y="786.10" width="5.90" height="22.60" fill="#A12A27"/>
<rect x="563.92" y="800.20" width="5.90" height="8.50" fill="#52A79F"/>
<rect x="569.82" y="801.00" width="5.90" height="7.70" fill="#A12A27"/>
<rect x="576.68" y="796.50" width="5.90" height="12.20" fill="#52A79F"/>
<rect x="582.58" y="797.00" width="5.90" height="11.70" fill="#A12A27"/>
<rect x="589.45" y="801.20" width="5.90" height="7.50" fill="#52A79F"/>
<rect x="595.35" y="801.00" width="5.90" height="7.70" fill="#A12A27"/>
<rect x="485.58" y="714.00" width="142.95" height="17.00" fill="#fff" stroke="#333333" stroke-width="0.85"/>
<text x="557.35" y="727.30" font-size="13.6" text-anchor="middle" fill="#1a1a1a" font-weight="normal" stroke="#1a1a1a" stroke-width="0.25" >UTP</text>
<line x1="485.58" y1="812.40" x2="629.13" y2="812.40" stroke="#333333" stroke-width="0.85" stroke-linecap="butt"/>
<line x1="493.24" y1="812.40" x2="493.24" y2="814.00" stroke="#333333" stroke-width="0.85" stroke-linecap="butt"/>
<text x="493.24" y="822.70" font-size="10.0" text-anchor="middle" fill="#1a1a1a" font-weight="normal" stroke="#1a1a1a" stroke-width="0.25" >0</text>
<line x1="506.00" y1="812.40" x2="506.00" y2="814.00" stroke="#333333" stroke-width="0.85" stroke-linecap="butt"/>
<text x="506.00" y="822.70" font-size="10.0" text-anchor="middle" fill="#1a1a1a" font-weight="normal" stroke="#1a1a1a" stroke-width="0.25" >1</text>
<line x1="518.76" y1="812.40" x2="518.76" y2="814.00" stroke="#333333" stroke-width="0.85" stroke-linecap="butt"/>
<text x="518.76" y="822.70" font-size="10.0" text-anchor="middle" fill="#1a1a1a" font-weight="normal" stroke="#1a1a1a" stroke-width="0.25" >2</text>
<line x1="531.53" y1="812.40" x2="531.53" y2="814.00" stroke="#333333" stroke-width="0.85" stroke-linecap="butt"/>
<text x="531.53" y="822.70" font-size="10.0" text-anchor="middle" fill="#1a1a1a" font-weight="normal" stroke="#1a1a1a" stroke-width="0.25" >3</text>
<line x1="544.29" y1="812.40" x2="544.29" y2="814.00" stroke="#333333" stroke-width="0.85" stroke-linecap="butt"/>
<text x="544.29" y="822.70" font-size="10.0" text-anchor="middle" fill="#1a1a1a" font-weight="normal" stroke="#1a1a1a" stroke-width="0.25" >4</text>
<line x1="557.05" y1="812.40" x2="557.05" y2="814.00" stroke="#333333" stroke-width="0.85" stroke-linecap="butt"/>
<text x="557.05" y="822.70" font-size="10.0" text-anchor="middle" fill="#1a1a1a" font-weight="normal" stroke="#1a1a1a" stroke-width="0.25" >5</text>
<line x1="569.82" y1="812.40" x2="569.82" y2="814.00" stroke="#333333" stroke-width="0.85" stroke-linecap="butt"/>
<text x="569.82" y="822.70" font-size="10.0" text-anchor="middle" fill="#1a1a1a" font-weight="normal" stroke="#1a1a1a" stroke-width="0.25" >6</text>
<line x1="582.58" y1="812.40" x2="582.58" y2="814.00" stroke="#333333" stroke-width="0.85" stroke-linecap="butt"/>
<text x="582.58" y="822.70" font-size="10.0" text-anchor="middle" fill="#1a1a1a" font-weight="normal" stroke="#1a1a1a" stroke-width="0.25" >7</text>
<line x1="595.35" y1="812.40" x2="595.35" y2="814.00" stroke="#333333" stroke-width="0.85" stroke-linecap="butt"/>
<text x="595.35" y="822.70" font-size="10.0" text-anchor="middle" fill="#1a1a1a" font-weight="normal" stroke="#1a1a1a" stroke-width="0.25" >8</text>
<line x1="608.11" y1="812.40" x2="608.11" y2="814.00" stroke="#333333" stroke-width="0.85" stroke-linecap="butt"/>
<text x="608.11" y="822.70" font-size="10.0" text-anchor="middle" fill="#1a1a1a" font-weight="normal" stroke="#1a1a1a" stroke-width="0.25" >9</text>
<line x1="620.87" y1="812.40" x2="620.87" y2="814.00" stroke="#333333" stroke-width="0.85" stroke-linecap="butt"/>
<text x="620.87" y="822.70" font-size="10.0" text-anchor="middle" fill="#1a1a1a" font-weight="normal" stroke="#1a1a1a" stroke-width="0.25" >10</text>
<rect x="45.90" y="902.45" width="5.65" height="27.10" fill="#52A79F"/>
<rect x="51.55" y="880.45" width="5.65" height="49.10" fill="#A12A27"/>
<rect x="58.55" y="928.95" width="5.65" height="0.60" fill="#52A79F"/>
<rect x="71.21" y="921.05" width="5.65" height="8.50" fill="#52A79F"/>
<rect x="76.86" y="923.35" width="5.65" height="6.20" fill="#A12A27"/>
<rect x="83.86" y="925.95" width="5.65" height="3.60" fill="#52A79F"/>
<rect x="89.51" y="924.45" width="5.65" height="5.10" fill="#A12A27"/>
<rect x="96.52" y="920.55" width="5.65" height="9.00" fill="#52A79F"/>
<rect x="102.17" y="921.35" width="5.65" height="8.20" fill="#A12A27"/>
<rect x="109.17" y="858.35" width="5.65" height="71.20" fill="#52A79F"/>
<rect x="114.82" y="850.15" width="5.65" height="79.40" fill="#A12A27"/>
<rect x="121.83" y="928.95" width="5.65" height="0.60" fill="#52A79F"/>
<rect x="134.48" y="922.55" width="5.65" height="7.00" fill="#52A79F"/>
<rect x="140.13" y="927.05" width="5.65" height="2.50" fill="#A12A27"/>
<rect x="147.14" y="925.35" width="5.65" height="4.20" fill="#52A79F"/>
<rect x="152.79" y="927.95" width="5.65" height="1.60" fill="#A12A27"/>
<rect x="159.79" y="922.75" width="5.65" height="6.80" fill="#52A79F"/>
<rect x="165.44" y="926.55" width="5.65" height="3.00" fill="#A12A27"/>
<rect x="172.45" y="893.35" width="5.65" height="36.20" fill="#52A79F"/>
<rect x="178.10" y="909.95" width="5.65" height="19.60" fill="#A12A27"/>
<rect x="185.10" y="928.95" width="5.65" height="0.60" fill="#52A79F"/>
<rect x="44.40" y="828.50" width="192.10" height="16.80" fill="#fff" stroke="#333333" stroke-width="0.85"/>
<text x="140.75" y="841.70" font-size="13.6" text-anchor="middle" fill="#1a1a1a" font-weight="normal" stroke="#1a1a1a" stroke-width="0.25" >NAD</text>
<line x1="43.95" y1="845.30" x2="43.95" y2="933.77" stroke="#333333" stroke-width="0.85" stroke-linecap="butt"/>
<line x1="42.05" y1="929.55" x2="43.95" y2="929.55" stroke="#333333" stroke-width="0.85" stroke-linecap="butt"/>
<text x="40.65" y="932.75" font-size="10.0" text-anchor="end" fill="#1a1a1a" font-weight="normal" stroke="#1a1a1a" stroke-width="0.25" >0.0</text>
<line x1="42.05" y1="911.75" x2="43.95" y2="911.75" stroke="#333333" stroke-width="0.85" stroke-linecap="butt"/>
<text x="40.65" y="914.95" font-size="10.0" text-anchor="end" fill="#1a1a1a" font-weight="normal" stroke="#1a1a1a" stroke-width="0.25" >0.1</text>
<line x1="42.05" y1="893.95" x2="43.95" y2="893.95" stroke="#333333" stroke-width="0.85" stroke-linecap="butt"/>
<text x="40.65" y="897.15" font-size="10.0" text-anchor="end" fill="#1a1a1a" font-weight="normal" stroke="#1a1a1a" stroke-width="0.25" >0.2</text>
<line x1="42.05" y1="876.15" x2="43.95" y2="876.15" stroke="#333333" stroke-width="0.85" stroke-linecap="butt"/>
<text x="40.65" y="879.35" font-size="10.0" text-anchor="end" fill="#1a1a1a" font-weight="normal" stroke="#1a1a1a" stroke-width="0.25" >0.3</text>
<line x1="42.05" y1="858.35" x2="43.95" y2="858.35" stroke="#333333" stroke-width="0.85" stroke-linecap="butt"/>
<text x="40.65" y="861.55" font-size="10.0" text-anchor="end" fill="#1a1a1a" font-weight="normal" stroke="#1a1a1a" stroke-width="0.25" >0.4</text>
<line x1="43.95" y1="933.35" x2="237.10" y2="933.35" stroke="#333333" stroke-width="0.85" stroke-linecap="butt"/>
<line x1="51.55" y1="933.35" x2="51.55" y2="934.95" stroke="#333333" stroke-width="0.85" stroke-linecap="butt"/>
<text x="51.55" y="943.65" font-size="10.0" text-anchor="middle" fill="#1a1a1a" font-weight="normal" stroke="#1a1a1a" stroke-width="0.25" >0</text>
<line x1="64.20" y1="933.35" x2="64.20" y2="934.95" stroke="#333333" stroke-width="0.85" stroke-linecap="butt"/>
<text x="64.20" y="943.65" font-size="10.0" text-anchor="middle" fill="#1a1a1a" font-weight="normal" stroke="#1a1a1a" stroke-width="0.25" >1</text>
<line x1="76.86" y1="933.35" x2="76.86" y2="934.95" stroke="#333333" stroke-width="0.85" stroke-linecap="butt"/>
<text x="76.86" y="943.65" font-size="10.0" text-anchor="middle" fill="#1a1a1a" font-weight="normal" stroke="#1a1a1a" stroke-width="0.25" >2</text>
<line x1="89.51" y1="933.35" x2="89.51" y2="934.95" stroke="#333333" stroke-width="0.85" stroke-linecap="butt"/>
<text x="89.51" y="943.65" font-size="10.0" text-anchor="middle" fill="#1a1a1a" font-weight="normal" stroke="#1a1a1a" stroke-width="0.25" >3</text>
<line x1="102.17" y1="933.35" x2="102.17" y2="934.95" stroke="#333333" stroke-width="0.85" stroke-linecap="butt"/>
<text x="102.17" y="943.65" font-size="10.0" text-anchor="middle" fill="#1a1a1a" font-weight="normal" stroke="#1a1a1a" stroke-width="0.25" >4</text>
<line x1="114.82" y1="933.35" x2="114.82" y2="934.95" stroke="#333333" stroke-width="0.85" stroke-linecap="butt"/>
<text x="114.82" y="943.65" font-size="10.0" text-anchor="middle" fill="#1a1a1a" font-weight="normal" stroke="#1a1a1a" stroke-width="0.25" >5</text>
<line x1="127.48" y1="933.35" x2="127.48" y2="934.95" stroke="#333333" stroke-width="0.85" stroke-linecap="butt"/>
<text x="127.48" y="943.65" font-size="10.0" text-anchor="middle" fill="#1a1a1a" font-weight="normal" stroke="#1a1a1a" stroke-width="0.25" >6</text>
<line x1="140.13" y1="933.35" x2="140.13" y2="934.95" stroke="#333333" stroke-width="0.85" stroke-linecap="butt"/>
<text x="140.13" y="943.65" font-size="10.0" text-anchor="middle" fill="#1a1a1a" font-weight="normal" stroke="#1a1a1a" stroke-width="0.25" >7</text>
<line x1="152.79" y1="933.35" x2="152.79" y2="934.95" stroke="#333333" stroke-width="0.85" stroke-linecap="butt"/>
<text x="152.79" y="943.65" font-size="10.0" text-anchor="middle" fill="#1a1a1a" font-weight="normal" stroke="#1a1a1a" stroke-width="0.25" >8</text>
<line x1="165.44" y1="933.35" x2="165.44" y2="934.95" stroke="#333333" stroke-width="0.85" stroke-linecap="butt"/>
<text x="165.44" y="943.65" font-size="10.0" text-anchor="middle" fill="#1a1a1a" font-weight="normal" stroke="#1a1a1a" stroke-width="0.25" >9</text>
<line x1="178.10" y1="933.35" x2="178.10" y2="934.95" stroke="#333333" stroke-width="0.85" stroke-linecap="butt"/>
<text x="178.10" y="943.65" font-size="10.0" text-anchor="middle" fill="#1a1a1a" font-weight="normal" stroke="#1a1a1a" stroke-width="0.25" >10</text>
<line x1="190.75" y1="933.35" x2="190.75" y2="934.95" stroke="#333333" stroke-width="0.85" stroke-linecap="butt"/>
<text x="190.75" y="943.65" font-size="10.0" text-anchor="middle" fill="#1a1a1a" font-weight="normal" stroke="#1a1a1a" stroke-width="0.25" >11</text>
<line x1="203.41" y1="933.35" x2="203.41" y2="934.95" stroke="#333333" stroke-width="0.85" stroke-linecap="butt"/>
<text x="203.41" y="943.65" font-size="10.0" text-anchor="middle" fill="#1a1a1a" font-weight="normal" stroke="#1a1a1a" stroke-width="0.25" >12</text>
<line x1="216.06" y1="933.35" x2="216.06" y2="934.95" stroke="#333333" stroke-width="0.85" stroke-linecap="butt"/>
<text x="216.06" y="943.65" font-size="10.0" text-anchor="middle" fill="#1a1a1a" font-weight="normal" stroke="#1a1a1a" stroke-width="0.25" >13</text>
<line x1="228.72" y1="933.35" x2="228.72" y2="934.95" stroke="#333333" stroke-width="0.85" stroke-linecap="butt"/>
<text x="228.72" y="943.65" font-size="10.0" text-anchor="middle" fill="#1a1a1a" font-weight="normal" stroke="#1a1a1a" stroke-width="0.25" >14</text>
<rect x="242.00" y="897.95" width="5.65" height="31.60" fill="#52A79F"/>
<rect x="247.65" y="876.45" width="5.65" height="53.10" fill="#A12A27"/>
<rect x="254.66" y="929.15" width="5.65" height="0.40" fill="#52A79F"/>
<rect x="267.31" y="920.55" width="5.65" height="9.00" fill="#52A79F"/>
<rect x="272.96" y="924.25" width="5.65" height="5.30" fill="#A12A27"/>
<rect x="279.97" y="928.25" width="5.65" height="1.30" fill="#52A79F"/>
<rect x="285.62" y="928.25" width="5.65" height="1.30" fill="#A12A27"/>
<rect x="292.62" y="921.05" width="5.65" height="8.50" fill="#52A79F"/>
<rect x="298.27" y="920.55" width="5.65" height="9.00" fill="#A12A27"/>
<rect x="305.28" y="857.85" width="5.65" height="71.70" fill="#52A79F"/>
<rect x="310.93" y="850.15" width="5.65" height="79.40" fill="#A12A27"/>
<rect x="330.59" y="924.25" width="5.65" height="5.30" fill="#52A79F"/>
<rect x="336.24" y="927.65" width="5.65" height="1.90" fill="#A12A27"/>
<rect x="343.24" y="928.25" width="5.65" height="1.30" fill="#52A79F"/>
<rect x="348.89" y="928.65" width="5.65" height="0.90" fill="#A12A27"/>
<rect x="355.90" y="922.25" width="5.65" height="7.30" fill="#52A79F"/>
<rect x="361.55" y="925.35" width="5.65" height="4.20" fill="#A12A27"/>
<rect x="368.55" y="891.35" width="5.65" height="38.20" fill="#52A79F"/>
<rect x="374.20" y="907.95" width="5.65" height="21.60" fill="#A12A27"/>
<rect x="381.21" y="928.95" width="5.65" height="0.60" fill="#52A79F"/>
<rect x="393.86" y="929.35" width="5.65" height="0.20" fill="#52A79F"/>
<rect x="240.50" y="828.50" width="192.10" height="16.80" fill="#fff" stroke="#333333" stroke-width="0.85"/>
<text x="336.85" y="841.70" font-size="13.6" text-anchor="middle" fill="#1a1a1a" font-weight="normal" stroke="#1a1a1a" stroke-width="0.25" >NADH</text>
<line x1="240.50" y1="933.35" x2="433.20" y2="933.35" stroke="#333333" stroke-width="0.85" stroke-linecap="butt"/>
<line x1="247.65" y1="933.35" x2="247.65" y2="934.95" stroke="#333333" stroke-width="0.85" stroke-linecap="butt"/>
<text x="247.65" y="943.65" font-size="10.0" text-anchor="middle" fill="#1a1a1a" font-weight="normal" stroke="#1a1a1a" stroke-width="0.25" >0</text>
<line x1="260.31" y1="933.35" x2="260.31" y2="934.95" stroke="#333333" stroke-width="0.85" stroke-linecap="butt"/>
<text x="260.31" y="943.65" font-size="10.0" text-anchor="middle" fill="#1a1a1a" font-weight="normal" stroke="#1a1a1a" stroke-width="0.25" >1</text>
<line x1="272.96" y1="933.35" x2="272.96" y2="934.95" stroke="#333333" stroke-width="0.85" stroke-linecap="butt"/>
<text x="272.96" y="943.65" font-size="10.0" text-anchor="middle" fill="#1a1a1a" font-weight="normal" stroke="#1a1a1a" stroke-width="0.25" >2</text>
<line x1="285.62" y1="933.35" x2="285.62" y2="934.95" stroke="#333333" stroke-width="0.85" stroke-linecap="butt"/>
<text x="285.62" y="943.65" font-size="10.0" text-anchor="middle" fill="#1a1a1a" font-weight="normal" stroke="#1a1a1a" stroke-width="0.25" >3</text>
<line x1="298.27" y1="933.35" x2="298.27" y2="934.95" stroke="#333333" stroke-width="0.85" stroke-linecap="butt"/>
<text x="298.27" y="943.65" font-size="10.0" text-anchor="middle" fill="#1a1a1a" font-weight="normal" stroke="#1a1a1a" stroke-width="0.25" >4</text>
<line x1="310.93" y1="933.35" x2="310.93" y2="934.95" stroke="#333333" stroke-width="0.85" stroke-linecap="butt"/>
<text x="310.93" y="943.65" font-size="10.0" text-anchor="middle" fill="#1a1a1a" font-weight="normal" stroke="#1a1a1a" stroke-width="0.25" >5</text>
<line x1="323.58" y1="933.35" x2="323.58" y2="934.95" stroke="#333333" stroke-width="0.85" stroke-linecap="butt"/>
<text x="323.58" y="943.65" font-size="10.0" text-anchor="middle" fill="#1a1a1a" font-weight="normal" stroke="#1a1a1a" stroke-width="0.25" >6</text>
<line x1="336.24" y1="933.35" x2="336.24" y2="934.95" stroke="#333333" stroke-width="0.85" stroke-linecap="butt"/>
<text x="336.24" y="943.65" font-size="10.0" text-anchor="middle" fill="#1a1a1a" font-weight="normal" stroke="#1a1a1a" stroke-width="0.25" >7</text>
<line x1="348.89" y1="933.35" x2="348.89" y2="934.95" stroke="#333333" stroke-width="0.85" stroke-linecap="butt"/>
<text x="348.89" y="943.65" font-size="10.0" text-anchor="middle" fill="#1a1a1a" font-weight="normal" stroke="#1a1a1a" stroke-width="0.25" >8</text>
<line x1="361.55" y1="933.35" x2="361.55" y2="934.95" stroke="#333333" stroke-width="0.85" stroke-linecap="butt"/>
<text x="361.55" y="943.65" font-size="10.0" text-anchor="middle" fill="#1a1a1a" font-weight="normal" stroke="#1a1a1a" stroke-width="0.25" >9</text>
<line x1="374.20" y1="933.35" x2="374.20" y2="934.95" stroke="#333333" stroke-width="0.85" stroke-linecap="butt"/>
<text x="374.20" y="943.65" font-size="10.0" text-anchor="middle" fill="#1a1a1a" font-weight="normal" stroke="#1a1a1a" stroke-width="0.25" >10</text>
<line x1="386.86" y1="933.35" x2="386.86" y2="934.95" stroke="#333333" stroke-width="0.85" stroke-linecap="butt"/>
<text x="386.86" y="943.65" font-size="10.0" text-anchor="middle" fill="#1a1a1a" font-weight="normal" stroke="#1a1a1a" stroke-width="0.25" >11</text>
<line x1="399.51" y1="933.35" x2="399.51" y2="934.95" stroke="#333333" stroke-width="0.85" stroke-linecap="butt"/>
<text x="399.51" y="943.65" font-size="10.0" text-anchor="middle" fill="#1a1a1a" font-weight="normal" stroke="#1a1a1a" stroke-width="0.25" >12</text>
<line x1="412.16" y1="933.35" x2="412.16" y2="934.95" stroke="#333333" stroke-width="0.85" stroke-linecap="butt"/>
<text x="412.16" y="943.65" font-size="10.0" text-anchor="middle" fill="#1a1a1a" font-weight="normal" stroke="#1a1a1a" stroke-width="0.25" >13</text>
<line x1="424.82" y1="933.35" x2="424.82" y2="934.95" stroke="#333333" stroke-width="0.85" stroke-linecap="butt"/>
<text x="424.82" y="943.65" font-size="10.0" text-anchor="middle" fill="#1a1a1a" font-weight="normal" stroke="#1a1a1a" stroke-width="0.25" >14</text>
<rect x="438.20" y="887.05" width="5.65" height="42.50" fill="#52A79F"/>
<rect x="443.85" y="868.45" width="5.65" height="61.10" fill="#A12A27"/>
<rect x="450.85" y="929.15" width="5.65" height="0.40" fill="#52A79F"/>
<rect x="463.51" y="919.35" width="5.65" height="10.20" fill="#52A79F"/>
<rect x="469.16" y="923.05" width="5.65" height="6.50" fill="#A12A27"/>
<rect x="476.16" y="927.65" width="5.65" height="1.90" fill="#52A79F"/>
<rect x="481.81" y="927.95" width="5.65" height="1.60" fill="#A12A27"/>
<rect x="488.82" y="920.75" width="5.65" height="8.80" fill="#52A79F"/>
<rect x="494.47" y="921.05" width="5.65" height="8.50" fill="#A12A27"/>
<rect x="501.47" y="858.95" width="5.65" height="70.60" fill="#52A79F"/>
<rect x="507.12" y="853.55" width="5.65" height="76.00" fill="#A12A27"/>
<rect x="514.13" y="929.25" width="5.65" height="0.30" fill="#52A79F"/>
<rect x="526.78" y="924.55" width="5.65" height="5.00" fill="#52A79F"/>
<rect x="532.43" y="927.65" width="5.65" height="1.90" fill="#A12A27"/>
<rect x="539.44" y="928.25" width="5.65" height="1.30" fill="#52A79F"/>
<rect x="545.09" y="928.85" width="5.65" height="0.70" fill="#A12A27"/>
<rect x="552.10" y="923.35" width="5.65" height="6.20" fill="#52A79F"/>
<rect x="557.75" y="926.55" width="5.65" height="3.00" fill="#A12A27"/>
<rect x="564.75" y="900.45" width="5.65" height="29.10" fill="#52A79F"/>
<rect x="570.40" y="912.45" width="5.65" height="17.10" fill="#A12A27"/>
<rect x="577.40" y="929.15" width="5.65" height="0.40" fill="#52A79F"/>
<rect x="590.06" y="929.35" width="5.65" height="0.20" fill="#52A79F"/>
<rect x="436.70" y="828.50" width="192.10" height="16.80" fill="#fff" stroke="#333333" stroke-width="0.85"/>
<text x="533.05" y="841.70" font-size="13.6" text-anchor="middle" fill="#1a1a1a" font-weight="normal" stroke="#1a1a1a" stroke-width="0.25" >NADP</text>
<line x1="436.70" y1="933.35" x2="629.40" y2="933.35" stroke="#333333" stroke-width="0.85" stroke-linecap="butt"/>
<line x1="443.85" y1="933.35" x2="443.85" y2="934.95" stroke="#333333" stroke-width="0.85" stroke-linecap="butt"/>
<text x="443.85" y="943.65" font-size="10.0" text-anchor="middle" fill="#1a1a1a" font-weight="normal" stroke="#1a1a1a" stroke-width="0.25" >0</text>
<line x1="456.50" y1="933.35" x2="456.50" y2="934.95" stroke="#333333" stroke-width="0.85" stroke-linecap="butt"/>
<text x="456.50" y="943.65" font-size="10.0" text-anchor="middle" fill="#1a1a1a" font-weight="normal" stroke="#1a1a1a" stroke-width="0.25" >1</text>
<line x1="469.16" y1="933.35" x2="469.16" y2="934.95" stroke="#333333" stroke-width="0.85" stroke-linecap="butt"/>
<text x="469.16" y="943.65" font-size="10.0" text-anchor="middle" fill="#1a1a1a" font-weight="normal" stroke="#1a1a1a" stroke-width="0.25" >2</text>
<line x1="481.81" y1="933.35" x2="481.81" y2="934.95" stroke="#333333" stroke-width="0.85" stroke-linecap="butt"/>
<text x="481.81" y="943.65" font-size="10.0" text-anchor="middle" fill="#1a1a1a" font-weight="normal" stroke="#1a1a1a" stroke-width="0.25" >3</text>
<line x1="494.47" y1="933.35" x2="494.47" y2="934.95" stroke="#333333" stroke-width="0.85" stroke-linecap="butt"/>
<text x="494.47" y="943.65" font-size="10.0" text-anchor="middle" fill="#1a1a1a" font-weight="normal" stroke="#1a1a1a" stroke-width="0.25" >4</text>
<line x1="507.12" y1="933.35" x2="507.12" y2="934.95" stroke="#333333" stroke-width="0.85" stroke-linecap="butt"/>
<text x="507.12" y="943.65" font-size="10.0" text-anchor="middle" fill="#1a1a1a" font-weight="normal" stroke="#1a1a1a" stroke-width="0.25" >5</text>
<line x1="519.78" y1="933.35" x2="519.78" y2="934.95" stroke="#333333" stroke-width="0.85" stroke-linecap="butt"/>
<text x="519.78" y="943.65" font-size="10.0" text-anchor="middle" fill="#1a1a1a" font-weight="normal" stroke="#1a1a1a" stroke-width="0.25" >6</text>
<line x1="532.43" y1="933.35" x2="532.43" y2="934.95" stroke="#333333" stroke-width="0.85" stroke-linecap="butt"/>
<text x="532.43" y="943.65" font-size="10.0" text-anchor="middle" fill="#1a1a1a" font-weight="normal" stroke="#1a1a1a" stroke-width="0.25" >7</text>
<line x1="545.09" y1="933.35" x2="545.09" y2="934.95" stroke="#333333" stroke-width="0.85" stroke-linecap="butt"/>
<text x="545.09" y="943.65" font-size="10.0" text-anchor="middle" fill="#1a1a1a" font-weight="normal" stroke="#1a1a1a" stroke-width="0.25" >8</text>
<line x1="557.75" y1="933.35" x2="557.75" y2="934.95" stroke="#333333" stroke-width="0.85" stroke-linecap="butt"/>
<text x="557.75" y="943.65" font-size="10.0" text-anchor="middle" fill="#1a1a1a" font-weight="normal" stroke="#1a1a1a" stroke-width="0.25" >9</text>
<line x1="570.40" y1="933.35" x2="570.40" y2="934.95" stroke="#333333" stroke-width="0.85" stroke-linecap="butt"/>
<text x="570.40" y="943.65" font-size="10.0" text-anchor="middle" fill="#1a1a1a" font-weight="normal" stroke="#1a1a1a" stroke-width="0.25" >10</text>
<line x1="583.05" y1="933.35" x2="583.05" y2="934.95" stroke="#333333" stroke-width="0.85" stroke-linecap="butt"/>
<text x="583.05" y="943.65" font-size="10.0" text-anchor="middle" fill="#1a1a1a" font-weight="normal" stroke="#1a1a1a" stroke-width="0.25" >11</text>
<line x1="595.71" y1="933.35" x2="595.71" y2="934.95" stroke="#333333" stroke-width="0.85" stroke-linecap="butt"/>
<text x="595.71" y="943.65" font-size="10.0" text-anchor="middle" fill="#1a1a1a" font-weight="normal" stroke="#1a1a1a" stroke-width="0.25" >12</text>
<line x1="608.37" y1="933.35" x2="608.37" y2="934.95" stroke="#333333" stroke-width="0.85" stroke-linecap="butt"/>
<text x="608.37" y="943.65" font-size="10.0" text-anchor="middle" fill="#1a1a1a" font-weight="normal" stroke="#1a1a1a" stroke-width="0.25" >13</text>
<line x1="621.02" y1="933.35" x2="621.02" y2="934.95" stroke="#333333" stroke-width="0.85" stroke-linecap="butt"/>
<text x="621.02" y="943.65" font-size="10.0" text-anchor="middle" fill="#1a1a1a" font-weight="normal" stroke="#1a1a1a" stroke-width="0.25" >14</text>
<text transform="translate(18.1,712.20) rotate(-90)" font-size="16" text-anchor="middle" fill="#000" stroke="#000" stroke-width="0.2">Fraction</text>
<text x="335.80" y="962.40" font-size="16" text-anchor="middle" fill="#000" font-weight="normal" stroke="#000" stroke-width="0.2" >Isotopologue</text>
<rect x="631.00" y="529.20" width="7.80" height="12.20" fill="#52A79F"/>
<rect x="631.00" y="544.00" width="7.80" height="12.00" fill="#A12A27"/>
<text x="641.30" y="539.20" font-size="10.5" text-anchor="start" fill="#111" font-weight="normal" stroke="#111" stroke-width="0.25" >HC</text>
<text x="641.30" y="554.80" font-size="10.5" text-anchor="start" fill="#111" font-weight="normal" stroke="#111" stroke-width="0.25" >DADA2</text>
</svg>
</body></html>
